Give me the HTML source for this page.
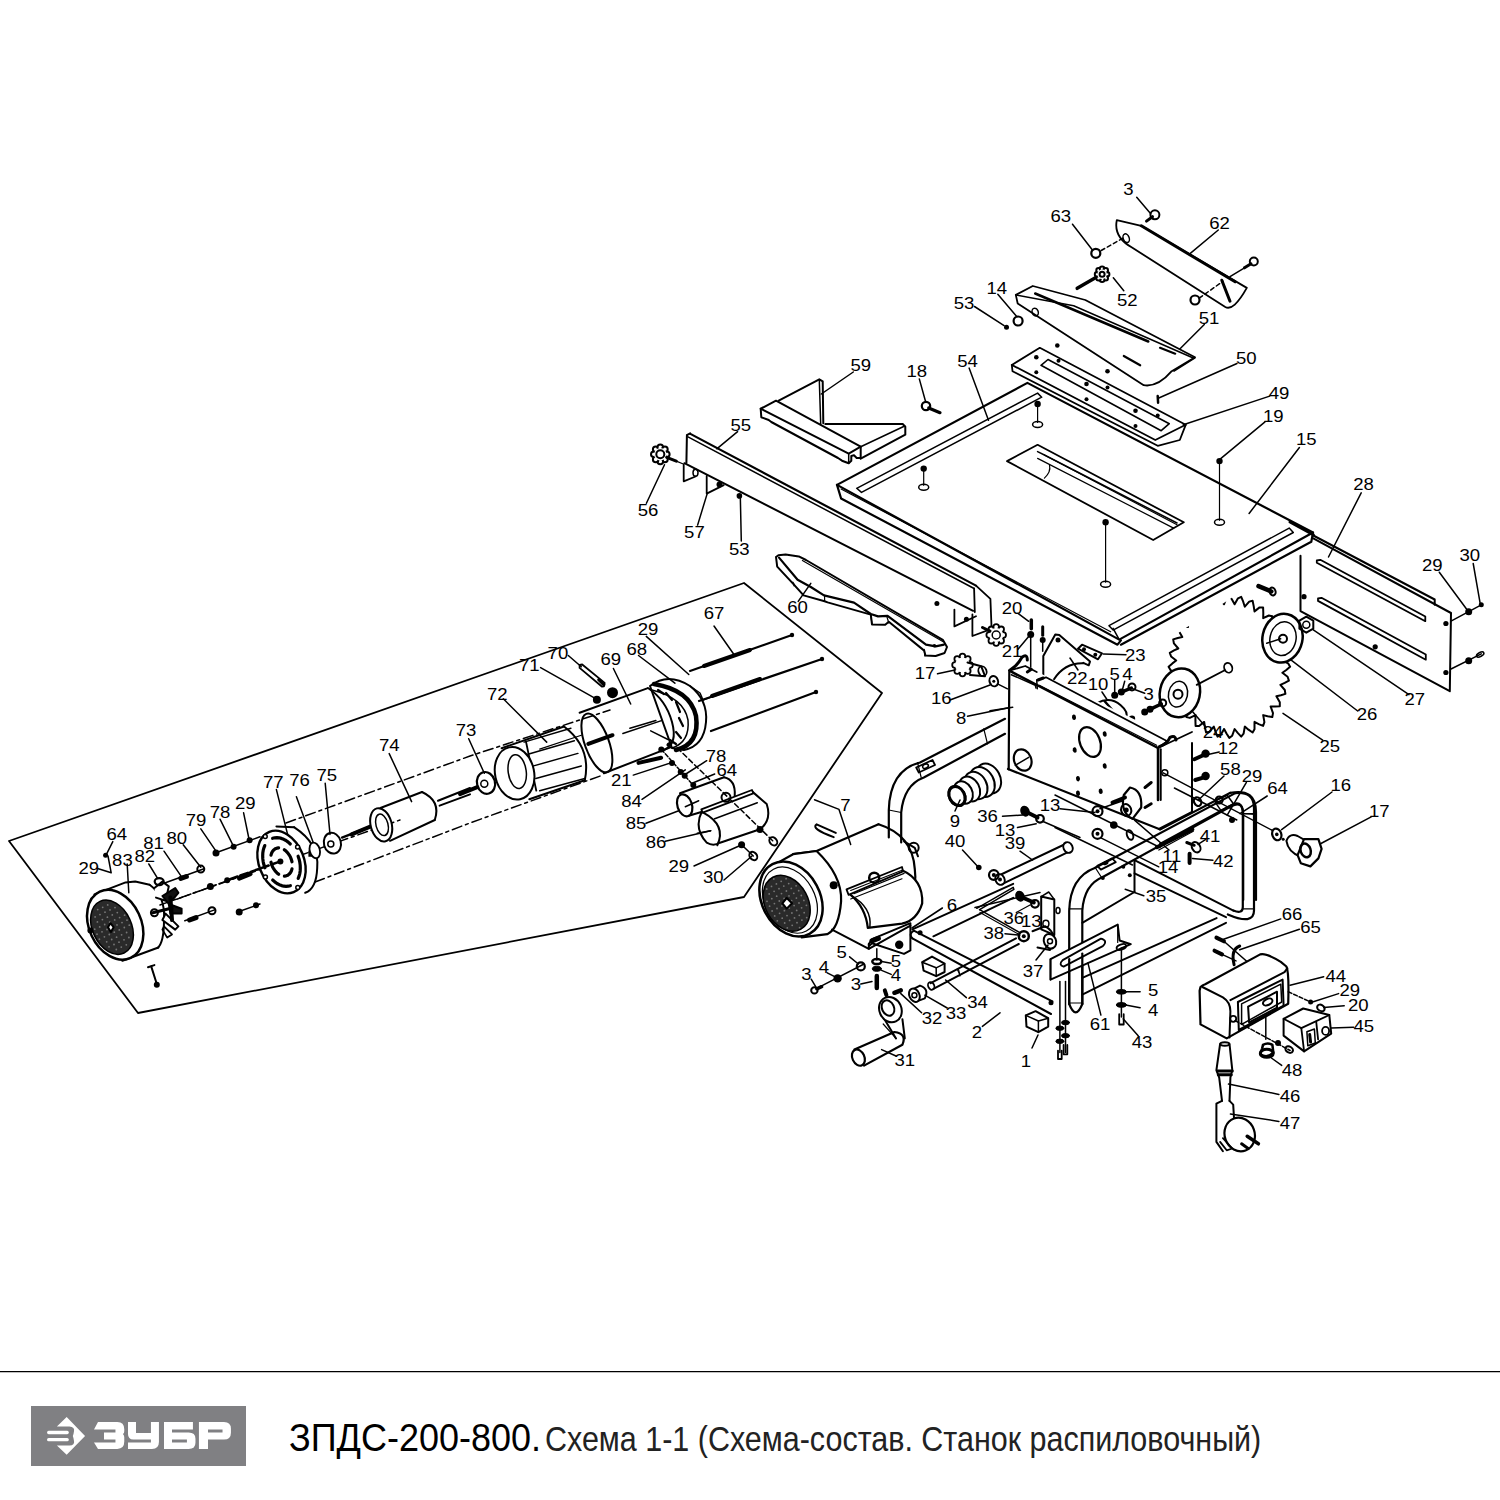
<!DOCTYPE html>
<html><head><meta charset="utf-8"><style>
html,body{margin:0;padding:0;background:#fff;width:1500px;height:1500px;overflow:hidden}
svg{position:absolute;left:0;top:0}
text{font-family:"Liberation Sans",sans-serif;fill:#000;stroke:none;text-anchor:middle;dominant-baseline:central}
.ttl{position:absolute;left:289px;top:1407px;font-family:"Liberation Sans",sans-serif;white-space:nowrap;color:#000}
</style></head><body>
<svg width="1500" height="1500" viewBox="0 0 1500 1500">
<g stroke="#000" stroke-linecap="round" stroke-linejoin="round" fill="none">
<path d="M1116.8,220.2 L1141.3,225.8 L1246.8,287.9 Q1233.5,311.7 1225.3,307.0 L1132.0,247.5 Q1113.3,237.0 1116.8,220.2 Z" stroke-width="1.8" fill="none"/>
<polyline points="1141.3,225.8 1235.1,281.8" stroke-width="3" fill="none"/>
<polyline points="1221.8,280.2 1230,301.2" stroke-width="3" fill="none"/>
<ellipse cx="1126.2" cy="238.2" rx="3" ry="4.5" transform="rotate(-20 1126.2 238.2)" stroke-width="1.5" fill="none"/>
<circle cx="1154.9" cy="214.8" r="4.5" fill="none" stroke-width="2"/>
<polyline points="1152.5,216.7 1146.5,221.1" stroke-width="3" fill="none"/>
<polyline points="1136.7,197.3 1150.7,213.7" stroke-width="1.5" fill="none"/>
<text transform="translate(1128.5 189.2) scale(1.16 1)" font-size="16">3</text>
<circle cx="1095.8" cy="253.3" r="4.5" fill="none" stroke-width="2.2"/>
<polyline points="1072.5,224.2 1092.8,250.5" stroke-width="1.5" fill="none"/>
<polyline points="1101.2,250.5 1125,237" stroke-width="1.5" fill="none" stroke-dasharray="4,3"/>
<text transform="translate(1060.8 216) scale(1.16 1)" font-size="16">63</text>
<polyline points="1218.3,230 1190.3,253.3" stroke-width="1.5" fill="none"/>
<text transform="translate(1219.5 223) scale(1.16 1)" font-size="16">62</text>
<circle cx="1253.8" cy="261.5" r="4" fill="none" stroke-width="2"/>
<polyline points="1251,263.8 1244.5,267.8" stroke-width="3" fill="none"/>
<polyline points="1230,276.7 1244.5,267.8" stroke-width="1.5" fill="none"/>
<circle cx="1195" cy="300" r="4.5" fill="none" stroke-width="2.2"/>
<polyline points="1199.2,298.1 1223,281.3" stroke-width="1.5" fill="none" stroke-dasharray="4,3"/>
<polyline points="1077.2,288.3 1099.3,275.5" stroke-width="3.5" fill="none"/>
<circle cx="1107.1" cy="274.3" r="2.3" fill="#fff" stroke-width="2"/>
<circle cx="1105.7" cy="278.2" r="2.3" fill="#fff" stroke-width="2"/>
<circle cx="1102.1" cy="279.8" r="2.3" fill="#fff" stroke-width="2"/>
<circle cx="1098.6" cy="278.2" r="2.3" fill="#fff" stroke-width="2"/>
<circle cx="1097.1" cy="274.3" r="2.3" fill="#fff" stroke-width="2"/>
<circle cx="1098.6" cy="270.4" r="2.3" fill="#fff" stroke-width="2"/>
<circle cx="1102.1" cy="268.8" r="2.3" fill="#fff" stroke-width="2"/>
<circle cx="1105.7" cy="270.4" r="2.3" fill="#fff" stroke-width="2"/>
<circle cx="1102.1" cy="274.3" r="4.8" fill="#fff" stroke-width="0"/>
<circle cx="1102.1" cy="274.3" r="2.5" fill="none" stroke-width="2"/>
<polyline points="1113.3,277.8 1123.8,290.7" stroke-width="1.5" fill="none"/>
<text transform="translate(1127.3 300) scale(1.16 1)" font-size="16">52</text>
<text transform="translate(996.7 288.3) scale(1.16 1)" font-size="16">14</text>
<polyline points="997.8,294.2 1016.5,316.3" stroke-width="1.5" fill="none"/>
<circle cx="1018.1" cy="321" r="4.5" fill="none" stroke-width="2.2"/>
<text transform="translate(964 303.5) scale(1.16 1)" font-size="16">53</text>
<polyline points="974.5,306.5 1004.1,325.7" stroke-width="1.5" fill="none"/>
<circle cx="1006.5" cy="327.3" r="2.5" fill="#000" stroke-width="0"/>
<path d="M1015.8,294.9 L1032.8,286.0 L1085.3,300.0 L1195.0,357.2 L1171.7,371.2 Q1157.7,387.5 1143.7,385.2 L1017.7,303.5 Z" stroke-width="1.8" fill="none"/>
<polyline points="1015.8,294.9 1073.7,305.8 1193.8,358.3" stroke-width="1.5" fill="none"/>
<polyline points="1035.2,293.5 1148.3,341.5" stroke-width="2.5" fill="none"/>
<polyline points="1174,371.2 1195,357.9" stroke-width="1.5" fill="none"/>
<ellipse cx="1035.2" cy="312.1" rx="3" ry="4" transform="rotate(-20 1035.2 312.1)" stroke-width="1.5" fill="none"/>
<polyline points="1123.8,356 1140.2,365.3" stroke-width="2.2" fill="none"/>
<polyline points="1160,347.8 1175.2,353.7" stroke-width="2.2" fill="none"/>
<text transform="translate(1209 318.7) scale(1.16 1)" font-size="16">51</text>
<polyline points="1204.3,324.5 1179.8,349" stroke-width="1.5" fill="none"/>
<polygon points="1011.8,364.9 1039.8,347.8 1185.7,424.8 1179.8,440 1157.7,445.8 1012.5,371.2" stroke-width="1.8" fill="none"/>
<polyline points="1011.8,364.9 1155.3,440 1185.7,424.8" stroke-width="1.8" fill="none"/>
<polygon points="1041,365.3 1048,359.5 1169.3,423.7 1161.2,430.7" stroke-width="1.6" fill="none"/>
<circle cx="1057.3" cy="345.5" r="2.3" fill="#000" stroke-width="0"/>
<circle cx="1036.3" cy="357.2" r="2.3" fill="#000" stroke-width="0"/>
<circle cx="1107.5" cy="371.2" r="2.3" fill="#000" stroke-width="0"/>
<circle cx="1086.5" cy="384" r="2.3" fill="#000" stroke-width="0"/>
<circle cx="1135.5" cy="410.8" r="2.3" fill="#000" stroke-width="0"/>
<circle cx="1036.3" cy="372.3" r="2" fill="#000" stroke-width="0"/>
<circle cx="1086.5" cy="399.2" r="2" fill="#000" stroke-width="0"/>
<circle cx="1135.5" cy="426" r="2" fill="#000" stroke-width="0"/>
<circle cx="1107.5" cy="387.5" r="2" fill="#000" stroke-width="0"/>
<circle cx="1157.7" cy="415.5" r="2" fill="#000" stroke-width="0"/>
<circle cx="1058.5" cy="360.7" r="2" fill="#000" stroke-width="0"/>
<text transform="translate(1246.3 358.3) scale(1.16 1)" font-size="16">50</text>
<polyline points="1237,363.5 1158.8,398" stroke-width="1.5" fill="none"/>
<polyline points="1157.7,396.1 1158.1,402.7" stroke-width="2.5" fill="none"/>
<text transform="translate(1279 393.3) scale(1.16 1)" font-size="16">49</text>
<polyline points="1269.7,396.1 1183.3,424.8" stroke-width="1.5" fill="none"/>
<text transform="translate(1273.2 416.7) scale(1.16 1)" font-size="16">19</text>
<polyline points="1265,421.8 1220.7,458.7" stroke-width="1.5" fill="none"/>
<text transform="translate(967.5 361.8) scale(1.16 1)" font-size="16">54</text>
<polyline points="969.1,368.1 988.5,420.2" stroke-width="1.5" fill="none"/>
<polygon points="837,484.9 1027.4,382.9 1313,532.5 1119.2,639.6" stroke-width="2.2" fill="none"/>
<polyline points="837,484.9 841.1,498.5 1117.5,644.7 1120.9,640.3" stroke-width="2.2" fill="none"/>
<polyline points="1120.9,644.7 1311.3,541.7 1313,532.5" stroke-width="2.2" fill="none"/>
<polyline points="1113.1,628.4 1119.2,639.6" stroke-width="1.5" fill="none"/>
<polygon points="856.7,488.3 1037.6,393.1 1041.7,397.2 861.5,492.4" stroke-width="1.5" fill="none"/>
<polygon points="1109,625.7 1289.2,528.1 1293.3,532.5 1113.1,630.1" stroke-width="1.5" fill="none"/>
<polyline points="841.1,489 1110.7,631.8" stroke-width="1.2" fill="none"/>
<polygon points="1007,461.1 1037.6,444.8 1183.8,522.3 1153.2,540" stroke-width="1.8" fill="none"/>
<polyline points="1037.6,451.6 1044.4,455 1177,523" stroke-width="1.5" fill="none"/>
<polyline points="1044.4,455 1177,524.7" stroke-width="1.2" fill="none"/>
<polyline points="1037.6,458.4 1173.6,528.1" stroke-width="1.2" fill="none"/>
<path d="M1049.5,465.2 Q1051.2,472.0 1044.4,478.1" stroke-width="1.2" fill="none"/>
<circle cx="1037.6" cy="404" r="3.2" fill="#000" stroke-width="0"/>
<polyline points="1037.6,406.7 1037.6,422.4" stroke-width="1.2" fill="none"/>
<ellipse cx="1037.6" cy="424.4" rx="5" ry="3" transform="rotate(0 1037.6 424.4)" stroke-width="1.5" fill="none"/>
<circle cx="923.7" cy="468.6" r="3.2" fill="#000" stroke-width="0"/>
<polyline points="923.7,471.3 923.7,485.3" stroke-width="1.2" fill="none"/>
<ellipse cx="923.7" cy="487.3" rx="5" ry="3" transform="rotate(0 923.7 487.3)" stroke-width="1.5" fill="none"/>
<circle cx="1105.6" cy="522.3" r="3.2" fill="#000" stroke-width="0"/>
<polyline points="1105.6,525 1105.6,582.2" stroke-width="1.2" fill="none"/>
<ellipse cx="1105.6" cy="584.2" rx="5" ry="3" transform="rotate(0 1105.6 584.2)" stroke-width="1.5" fill="none"/>
<circle cx="1219.5" cy="461.1" r="3.2" fill="#000" stroke-width="0"/>
<polyline points="1219.5,463.8 1219.5,520.3" stroke-width="1.2" fill="none"/>
<ellipse cx="1219.5" cy="522.3" rx="5" ry="3" transform="rotate(0 1219.5 522.3)" stroke-width="1.5" fill="none"/>
<text transform="translate(1306.2 439.7) scale(1.16 1)" font-size="16">15</text>
<polyline points="1299.4,447.5 1249.1,513.5" stroke-width="1.5" fill="none"/>
<polyline points="778.7,400.7 819.3,379.3 822.7,381.3 823.3,423.3" stroke-width="2" fill="none"/>
<polyline points="819.3,379.7 820.7,424" stroke-width="1.5" fill="none"/>
<polyline points="760.7,408.7 776,400.7 860.7,446.7 848.7,453.6 760.7,408.7" stroke-width="2" fill="none"/>
<polyline points="760.7,408.7 761.3,417.3 768.7,420 771.3,422 838,458 842,460.7 848.7,463.3 851.3,460.7 851.3,456 854,455.3 856.7,458 860.7,458 860.7,446.7" stroke-width="2" fill="none"/>
<polyline points="848.7,453.6 848.7,463.3" stroke-width="1.5" fill="none"/>
<polyline points="825.3,424 902.7,424 905.3,426.7 905.3,434.7 860.7,458.7" stroke-width="2" fill="none"/>
<polyline points="860.7,446.7 904.7,426" stroke-width="1.5" fill="none"/>
<text transform="translate(860.7 365.3) scale(1.16 1)" font-size="16">59</text>
<polyline points="853.3,372 821.3,394" stroke-width="1.5" fill="none"/>
<text transform="translate(916.7 371.3) scale(1.16 1)" font-size="16">18</text>
<polyline points="919.3,378.9 925.7,402" stroke-width="1.5" fill="none"/>
<circle cx="926" cy="406" r="4.2" fill="none" stroke-width="2.2"/>
<polyline points="928.7,408 940,412.7" stroke-width="3.2" fill="none"/>
<polyline points="686.9,435.1 690.1,433.3" stroke-width="2" fill="none"/>
<polyline points="686.9,435.5 686.4,462.7" stroke-width="2" fill="none"/>
<polyline points="683.7,464.3 683.7,481.3 695.5,476.5" stroke-width="1.8" fill="none"/>
<polyline points="706.7,476 706.7,493.6 723.7,485.1" stroke-width="1.8" fill="none"/>
<circle cx="666.8" cy="454.3" r="2.8" fill="#fff" stroke-width="2"/>
<circle cx="664.9" cy="459.4" r="2.8" fill="#fff" stroke-width="2"/>
<circle cx="660.3" cy="461.5" r="2.8" fill="#fff" stroke-width="2"/>
<circle cx="655.7" cy="459.4" r="2.8" fill="#fff" stroke-width="2"/>
<circle cx="653.8" cy="454.3" r="2.8" fill="#fff" stroke-width="2"/>
<circle cx="655.7" cy="449.3" r="2.8" fill="#fff" stroke-width="2"/>
<circle cx="660.3" cy="447.2" r="2.8" fill="#fff" stroke-width="2"/>
<circle cx="664.9" cy="449.3" r="2.8" fill="#fff" stroke-width="2"/>
<circle cx="660.3" cy="454.3" r="6.2" fill="#fff" stroke-width="0"/>
<circle cx="660.3" cy="454.3" r="4" fill="none" stroke-width="2"/>
<polyline points="666.7,457.3 676.3,461.1" stroke-width="3" fill="none"/>
<polyline points="676.3,461.1 682.7,463.7" stroke-width="1.2" fill="none"/>
<circle cx="739.4" cy="495.9" r="2.8" fill="#000" stroke-width="0"/>
<circle cx="719.5" cy="484.5" r="3" fill="#000" stroke-width="0"/>
<ellipse cx="695.5" cy="472.8" rx="2.5" ry="3.5" transform="rotate(0 695.5 472.8)" stroke-width="1.5" fill="none"/>
<text transform="translate(694.4 532.5) scale(1.16 1)" font-size="16">57</text>
<polyline points="697.6,525.1 707.2,493.6" stroke-width="1.5" fill="none"/>
<text transform="translate(739.2 549.6) scale(1.16 1)" font-size="16">53</text>
<polyline points="741.3,541.1 740.3,495.9" stroke-width="1.5" fill="none"/>
<text transform="translate(648 510.1) scale(1.16 1)" font-size="16">56</text>
<polyline points="646.4,503.2 664.5,464.8" stroke-width="1.5" fill="none"/>
<text transform="translate(740.8 425.3) scale(1.16 1)" font-size="16">55</text>
<polyline points="737.6,431.7 716.8,448.8" stroke-width="1.5" fill="none"/>
<polyline points="690.4,433.9 976,585.6" stroke-width="2.2" fill="none"/>
<polyline points="688,436.8 974.1,588.5" stroke-width="1.5" fill="none"/>
<polyline points="684.4,463.2 973.1,610.8" stroke-width="2" fill="none"/>
<polyline points="974.1,588.5 974.8,612" stroke-width="1.8" fill="none"/>
<polyline points="954.4,609.6 954.4,626.4 976,616.3" stroke-width="1.8" fill="none"/>
<polyline points="976,585.6 990.4,598.8 991.6,628.8 972.4,636 972.4,614.4" stroke-width="1.8" fill="none"/>
<circle cx="936.9" cy="603.6" r="2.5" fill="#000" stroke-width="0"/>
<circle cx="966.4" cy="619.2" r="2.5" fill="#000" stroke-width="0"/>
<polyline points="776,557 778.4,555.2 785.6,554.4 798.8,556.4 806,560 942.8,639.8 947,647 944.6,653 935.6,656 925.4,655.4 924.2,650.6 888.8,621.8 885.2,624.8 872,624.4 870.8,614.6 827.6,602.4 824.6,601.2 803.6,595.4 792.8,583.4 777.2,566.6 776,557" stroke-width="2" fill="none"/>
<polyline points="779,557.6 797.6,579.8 810.8,587 824,595.4 854,602.6 870.8,614 878,616.4 887.6,615.8 926,644.6 935.6,646.4 944,644.6" stroke-width="2.2" fill="none"/>
<polyline points="802.4,560.6 942.8,641.6" stroke-width="1.2" fill="none"/>
<polyline points="792.8,582.2 794,584 794,585.8" stroke-width="1.2" fill="none"/>
<polyline points="824.6,595.4 824.6,601.4" stroke-width="1.2" fill="none"/>
<polyline points="870.8,614.6 872,624.2" stroke-width="1.2" fill="none"/>
<polyline points="887,617 888.8,623" stroke-width="1.2" fill="none"/>
<polyline points="924.2,649.4 924.8,656" stroke-width="1.2" fill="none"/>
<circle cx="934.4" cy="645.8" r="1.8" fill="#000" stroke-width="0"/>
<text transform="translate(797.6 607.4) scale(1.16 1)" font-size="16">60</text>
<polyline points="798.2,601.4 810.8,583.4" stroke-width="1.5" fill="none"/>
<polyline points="1313.3,535.5 1434.7,599.5 1434.7,604.8" stroke-width="2" fill="none"/>
<polyline points="1300.5,555.8 1300.5,611.1 1449.8,691.2 1451,613 1313.3,538.3" stroke-width="2" fill="none"/>
<polyline points="1290,522 1313.3,534.8" stroke-width="3" fill="none"/>
<polygon points="1316.8,560.5 1320.3,559.8 1425.3,616.5 1425.3,621.2 1316.8,562.8" stroke-width="1.8" fill="none"/>
<polygon points="1318,598.5 1321.5,597.8 1425.8,654.5 1425.8,659.7 1318,600.9" stroke-width="1.8" fill="none"/>
<circle cx="1304" cy="596.7" r="2.6" fill="#000" stroke-width="0"/>
<circle cx="1375.2" cy="646.8" r="2.6" fill="#000" stroke-width="0"/>
<circle cx="1445.9" cy="623.5" r="2.6" fill="#000" stroke-width="0"/>
<circle cx="1445.9" cy="672.5" r="2.6" fill="#000" stroke-width="0"/>
<polyline points="1451,621.2 1481.3,604.8" stroke-width="1.5" fill="none"/>
<circle cx="1468.7" cy="611.8" r="3.5" fill="#000" stroke-width="0"/>
<circle cx="1481.3" cy="604.8" r="2.5" fill="#000" stroke-width="0"/>
<polyline points="1451,669 1481.3,653.8" stroke-width="1.5" fill="none"/>
<circle cx="1468.7" cy="660.8" r="3.5" fill="#000" stroke-width="0"/>
<ellipse cx="1480.2" cy="654.5" rx="4" ry="2" transform="rotate(-28 1480.2 654.5)" stroke-width="1.5" fill="none"/>
<text transform="translate(1363.5 484.7) scale(1.16 1)" font-size="16">28</text>
<polyline points="1361.2,492.8 1328.5,557" stroke-width="1.5" fill="none"/>
<text transform="translate(1432.3 565.2) scale(1.16 1)" font-size="16">29</text>
<polyline points="1439.3,572.2 1467.8,610.7" stroke-width="1.5" fill="none"/>
<text transform="translate(1469.7 555.8) scale(1.16 1)" font-size="16">30</text>
<polyline points="1473.2,563.5 1480.2,603.7" stroke-width="1.5" fill="none"/>
<polyline points="1258.5,586.2 1271.3,591.5" stroke-width="4.5" fill="none"/>
<ellipse cx="1272.5" cy="591.5" rx="3" ry="4" transform="rotate(-20 1272.5 591.5)" stroke-width="2" fill="none"/>
<clipPath id="bladeclip"><polygon points="1160.0,645.0 1312.0,545.0 1320.0,760.0 1150.0,760.0"/></clipPath>
<g clip-path="url(#bladeclip)">
<polyline points="1290.1,666.7 1286.3,670 1282.4,672.8 1287.6,676.8 1288.9,680.6 1284.7,682.9 1280.4,684.9 1284.8,690 1285.4,693.9 1280.9,695.3 1276.4,696.2 1279.8,702.2 1279.8,706.3 1275.1,706.6 1270.6,706.4 1273,713.1 1272.3,717.1 1267.6,716.3 1263.2,715.1 1264.4,722.2 1263.1,725.9 1258.7,724.1 1254.5,721.9 1254.5,729.2 1252.6,732.5 1248.5,729.7 1244.8,726.6 1243.6,733.7 1241.2,736.6 1237.7,732.9 1234.6,729 1232.2,735.7 1229.3,737.9 1226.5,733.5 1224.1,729 1220.7,735 1217.5,736.6 1215.5,731.6 1213.8,726.6 1209.5,731.7 1206.1,732.5 1204.9,727.2 1204.2,721.9 1199.1,726 1195.6,725.9 1195.4,720.4 1195.5,715.1 1189.8,717.9 1186.4,717.1 1187.1,711.6 1188.1,706.4 1182,707.8 1178.8,706.3 1180.4,701.1 1182.3,696.2 1176.1,696.2 1173.2,693.9 1175.6,689.2 1178.3,684.9 1172.2,683.5 1169.8,680.6 1172.9,676.5 1176.2,672.8 1170.5,670.1 1168.6,666.7 1172.4,663.4 1176.2,660.5 1171.1,656.5 1169.8,652.8 1174,650.4 1178.3,648.5 1173.9,643.4 1173.2,639.4 1177.8,638 1182.3,637.1 1178.8,631.1 1178.8,627.1 1183.5,626.8 1188.1,626.9 1185.7,620.2 1186.4,616.3 1191,617.1 1195.5,618.2 1194.3,611.1 1195.6,607.4 1200,609.2 1204.2,611.4 1204.2,604.2 1206.1,600.8 1210.1,603.6 1213.8,606.7 1215,599.6 1217.5,596.8 1221,600.4 1224.1,604.3 1226.4,597.6 1229.3,595.4 1232.1,599.8 1234.6,604.3 1238,598.3 1241.2,596.8 1243.2,601.7 1244.8,606.7 1249.2,601.6 1252.6,600.8 1253.7,606.1 1254.5,611.4 1259.6,607.4 1263.1,607.4 1263.3,612.9 1263.2,618.2 1268.9,615.5 1272.3,616.3 1271.6,621.7 1270.6,626.9 1276.6,625.5 1279.8,627.1 1278.3,632.2 1276.4,637.1 1282.6,637.1 1285.4,639.4 1283,644.1 1280.4,648.5 1286.4,649.9 1288.9,652.8 1285.8,656.8 1282.4,660.5 1288.1,663.3 1290.1,666.7" stroke-width="2" fill="none"/>
</g>
<ellipse cx="1282.5" cy="638.2" rx="20" ry="24.5" transform="rotate(12 1282.5 638.2)" stroke-width="2.5" fill="#fff"/>
<ellipse cx="1283" cy="638.7" rx="13" ry="17" transform="rotate(12 1283 638.7)" stroke-width="1.5" fill="none"/>
<circle cx="1283" cy="638.7" r="4" fill="none" stroke-width="2"/>
<polyline points="1266.7,643.3 1280.7,638.7" stroke-width="1.5" fill="none"/>
<polyline points="1313.3,628.7 1306.3,632.7 1299.4,628.7 1299.4,620.7 1306.3,616.7 1313.3,620.7 1313.3,628.7" stroke-width="2" fill="none"/>
<circle cx="1306.3" cy="624.7" r="3.5" fill="none" stroke-width="1.5"/>
<ellipse cx="1179.9" cy="692.8" rx="20" ry="24.5" transform="rotate(12 1179.9 692.8)" stroke-width="2.5" fill="#fff"/>
<ellipse cx="1178" cy="694.2" rx="9.5" ry="13" transform="rotate(12 1178 694.2)" stroke-width="1.5" fill="none"/>
<circle cx="1178" cy="694.2" r="4.5" fill="none" stroke-width="2"/>
<polyline points="1196.7,684.9 1224.7,670.2" stroke-width="1.8" fill="none"/>
<ellipse cx="1228.2" cy="667.8" rx="4" ry="5" transform="rotate(-20 1228.2 667.8)" stroke-width="1.8" fill="none"/>
<text transform="translate(1213 732) scale(1.16 1)" font-size="16">24</text>
<polyline points="1192,711 1206,727.3" stroke-width="1.5" fill="none"/>
<text transform="translate(1329.7 746) scale(1.16 1)" font-size="16">25</text>
<polyline points="1283,713.3 1322.7,740.2" stroke-width="1.5" fill="none"/>
<text transform="translate(1367 714.5) scale(1.16 1)" font-size="16">26</text>
<polyline points="1291.2,660.1 1357.7,711" stroke-width="1.5" fill="none"/>
<text transform="translate(1414.8 699.3) scale(1.16 1)" font-size="16">27</text>
<polyline points="1313.3,629.8 1409,694.7" stroke-width="1.5" fill="none"/>
<polyline points="1043.3,680 1043.3,656 1055.3,634.4 1059.3,634.9 1090,661.6 1088.7,665.3 1083.3,662.9" stroke-width="2" fill="#fff"/>
<path d="M1054.0,679.3 Q1064.7,662.7 1083.3,663.3" stroke-width="2" fill="none"/>
<circle cx="1058" cy="640" r="2.5" fill="#000" stroke-width="0"/>
<polyline points="1070,658 1078,670" stroke-width="1.5" fill="none"/>
<text transform="translate(1077.3 678.7) scale(1.16 1)" font-size="16">22</text>
<polygon points="1078,648.7 1082,644.7 1102,653.3 1098,659.3" stroke-width="2" fill="none"/>
<circle cx="1084" cy="649.3" r="2" fill="#000" stroke-width="0"/>
<circle cx="1095.3" cy="654.7" r="2" fill="#000" stroke-width="0"/>
<polyline points="1103.3,654 1126,654.7" stroke-width="1.5" fill="none"/>
<text transform="translate(1135.3 655.3) scale(1.16 1)" font-size="16">23</text>
<path d="M1096.7,703.3 Q1110.0,696.0 1120.7,705.3 Q1128.7,712.0 1126.0,718.0" stroke-width="2" fill="none"/>
<polyline points="1104.7,701.3 1114,712 1115.3,717.3" stroke-width="2.5" fill="none"/>
<circle cx="1114.7" cy="695.3" r="3.5" fill="#000" stroke-width="0"/>
<circle cx="1121.3" cy="692" r="3.5" fill="#000" stroke-width="0"/>
<circle cx="1132" cy="686.9" r="3.5" fill="none" stroke-width="2"/>
<polyline points="1123.3,691.3 1131.3,688" stroke-width="3.5" fill="none"/>
<polyline points="1132.7,688.7 1144.7,693.3" stroke-width="1.5" fill="none"/>
<text transform="translate(1098 684) scale(1.16 1)" font-size="16">10</text>
<polyline points="1102,692 1107.3,700" stroke-width="1.5" fill="none"/>
<text transform="translate(1114.7 674.7) scale(1.16 1)" font-size="16">5</text>
<polyline points="1114.7,680 1114.7,693.3" stroke-width="1.5" fill="none"/>
<text transform="translate(1127.3 674) scale(1.16 1)" font-size="16">4</text>
<polyline points="1124.7,681.3 1122,691.3" stroke-width="1.5" fill="none"/>
<text transform="translate(1148.7 694.7) scale(1.16 1)" font-size="16">3</text>
<circle cx="1132" cy="718.7" r="3.2" fill="#000" stroke-width="0"/>
<circle cx="1144.7" cy="712" r="3.5" fill="#000" stroke-width="0"/>
<circle cx="1150" cy="709.3" r="3.5" fill="#000" stroke-width="0"/>
<circle cx="1162.7" cy="702.9" r="3.5" fill="none" stroke-width="2"/>
<polyline points="1152,708.3 1161.3,704" stroke-width="3.5" fill="none"/>
<polygon points="1009.3,670.7 1025.3,666 1174,738.7 1158,748 1160.7,800 1008.7,800" stroke-width="0" fill="#fff"/>
<polyline points="1009.3,672 1008.7,769.3" stroke-width="2.2" fill="none"/>
<polyline points="1009.3,670.7 1158,748" stroke-width="2.5" fill="none"/>
<polyline points="1009.3,670.7 1025.3,666 1036.7,672" stroke-width="1.8" fill="none"/>
<polyline points="1011.3,674.7 1035.3,685.3 1036,688" stroke-width="1.5" fill="none"/>
<polyline points="1036.7,680 1037.3,688.7" stroke-width="1.5" fill="none"/>
<polyline points="1037.3,680 1046,677.3 1167.3,741.3 1158,748" stroke-width="1.8" fill="none"/>
<polyline points="1039.3,685.3 1156.7,745.3" stroke-width="1.2" fill="none"/>
<polyline points="1158,748 1158,800" stroke-width="2.5" fill="none"/>
<polyline points="1160.7,749.3 1160.7,800" stroke-width="2" fill="none"/>
<path d="M1010.0,670.0 Q1016.7,666.7 1022.0,657.3 Q1027.3,653.3 1027.3,660.0" stroke-width="3" fill="none"/>
<path d="M1159.3,746.7 Q1167.3,744.0 1170.0,737.3 Q1175.3,734.7 1176.0,740.0" stroke-width="3" fill="none"/>
<polyline points="1027.3,672 1031.3,669.3" stroke-width="3" fill="none"/>
<polyline points="1038,680 1043.3,678" stroke-width="3" fill="none"/>
<ellipse cx="1090" cy="742" rx="10" ry="15.5" transform="rotate(-22 1090 742)" stroke-width="2.2" fill="none"/>
<ellipse cx="1022.7" cy="760" rx="8.5" ry="11" transform="rotate(-22 1022.7 760)" stroke-width="2.2" fill="none"/>
<polyline points="1015.3,765.3 1028.7,757.3" stroke-width="1.5" fill="none"/>
<ellipse cx="1074" cy="717.3" rx="2" ry="2.8" transform="rotate(-10 1074 717.3)" stroke-width="0" fill="#000"/>
<ellipse cx="1104.7" cy="734" rx="2" ry="2.8" transform="rotate(-10 1104.7 734)" stroke-width="0" fill="#000"/>
<ellipse cx="1074.7" cy="750" rx="2" ry="2.8" transform="rotate(-10 1074.7 750)" stroke-width="0" fill="#000"/>
<ellipse cx="1104.7" cy="766" rx="2" ry="2.8" transform="rotate(-10 1104.7 766)" stroke-width="0" fill="#000"/>
<ellipse cx="1078" cy="778.7" rx="2" ry="2.8" transform="rotate(-10 1078 778.7)" stroke-width="0" fill="#000"/>
<ellipse cx="1100.7" cy="791.3" rx="2" ry="2.8" transform="rotate(-10 1100.7 791.3)" stroke-width="0" fill="#000"/>
<ellipse cx="1078" cy="793.3" rx="2" ry="2.8" transform="rotate(-10 1078 793.3)" stroke-width="0" fill="#000"/>
<polyline points="1031.3,620 1031.3,628.7" stroke-width="3.5" fill="none"/>
<polyline points="1042.7,626.7 1042.7,635.3" stroke-width="3" fill="none"/>
<circle cx="1030.7" cy="634.4" r="3.5" fill="#000" stroke-width="0"/>
<circle cx="1042.7" cy="640" r="3" fill="#000" stroke-width="0"/>
<polyline points="1030.7,635.3 1030.7,667.3" stroke-width="1.5" fill="none"/>
<polyline points="1042.7,641.3 1042.7,651.3" stroke-width="1.5" fill="none"/>
<text transform="translate(1012 608) scale(1.16 1)" font-size="16">20</text>
<polyline points="1018,613.3 1028.7,621.3" stroke-width="1.5" fill="none"/>
<text transform="translate(1012 651.3) scale(1.16 1)" font-size="16">21</text>
<polyline points="1018,649.3 1029.3,635.7" stroke-width="1.5" fill="none"/>
<polyline points="990,710.7 1012.7,707.3" stroke-width="1.5" fill="none"/>
<polygon points="9,841 744,583 882,693 744,897 138,1013" stroke-width="1.8" fill="none"/>
<polyline points="286,823 470,756 610,710" stroke-width="1.5" fill="none" stroke-dasharray="10,4,3,4"/>
<polyline points="315,882 470,823 603,775" stroke-width="1.5" fill="none" stroke-dasharray="10,4,3,4"/>
<polyline points="160,905 400,820" stroke-width="1.5" fill="none" stroke-dasharray="10,4,3,4"/>
<polyline points="94.4,894.4 125.6,882.4 135.2,881.6 149.6,884.8" stroke-width="2" fill="none"/>
<path d="M149.6,884.8 Q165.6,896.0 164.0,920.0 Q164.0,942.4 157.6,948.0" stroke-width="2" fill="none"/>
<polyline points="122.4,960.8 158.4,947.5" stroke-width="2" fill="none"/>
<ellipse cx="115.2" cy="924.8" rx="26" ry="36.5" transform="rotate(-25 115.2 924.8)" stroke-width="2.5" fill="#fff"/>
<ellipse cx="112" cy="927.2" rx="19.5" ry="28.5" transform="rotate(-25 112 927.2)" stroke-width="1.5" fill="#2a2a2a"/>
<circle cx="94.7" cy="929.2" r="0.9" fill="#777" stroke-width="0"/>
<circle cx="97" cy="934.2" r="0.9" fill="#777" stroke-width="0"/>
<circle cx="99.4" cy="939.2" r="0.9" fill="#777" stroke-width="0"/>
<circle cx="95.1" cy="916.9" r="0.9" fill="#777" stroke-width="0"/>
<circle cx="97.4" cy="921.9" r="0.9" fill="#777" stroke-width="0"/>
<circle cx="99.7" cy="926.9" r="0.9" fill="#777" stroke-width="0"/>
<circle cx="102" cy="931.8" r="0.9" fill="#777" stroke-width="0"/>
<circle cx="104.4" cy="936.8" r="0.9" fill="#777" stroke-width="0"/>
<circle cx="106.7" cy="941.8" r="0.9" fill="#777" stroke-width="0"/>
<circle cx="109" cy="946.8" r="0.9" fill="#777" stroke-width="0"/>
<circle cx="97.7" cy="909.6" r="0.9" fill="#777" stroke-width="0"/>
<circle cx="100" cy="914.6" r="0.9" fill="#777" stroke-width="0"/>
<circle cx="102.4" cy="919.6" r="0.9" fill="#777" stroke-width="0"/>
<circle cx="104.7" cy="924.5" r="0.9" fill="#777" stroke-width="0"/>
<circle cx="107" cy="929.5" r="0.9" fill="#777" stroke-width="0"/>
<circle cx="109.3" cy="934.5" r="0.9" fill="#777" stroke-width="0"/>
<circle cx="111.7" cy="939.5" r="0.9" fill="#777" stroke-width="0"/>
<circle cx="114" cy="944.5" r="0.9" fill="#777" stroke-width="0"/>
<circle cx="116.3" cy="949.5" r="0.9" fill="#777" stroke-width="0"/>
<circle cx="102.7" cy="907.3" r="0.9" fill="#777" stroke-width="0"/>
<circle cx="105" cy="912.2" r="0.9" fill="#777" stroke-width="0"/>
<circle cx="107.4" cy="917.2" r="0.9" fill="#777" stroke-width="0"/>
<circle cx="109.7" cy="922.2" r="0.9" fill="#777" stroke-width="0"/>
<circle cx="112" cy="927.2" r="0.9" fill="#777" stroke-width="0"/>
<circle cx="114.3" cy="932.2" r="0.9" fill="#777" stroke-width="0"/>
<circle cx="116.6" cy="937.2" r="0.9" fill="#777" stroke-width="0"/>
<circle cx="119" cy="942.2" r="0.9" fill="#777" stroke-width="0"/>
<circle cx="121.3" cy="947.1" r="0.9" fill="#777" stroke-width="0"/>
<circle cx="107.7" cy="904.9" r="0.9" fill="#777" stroke-width="0"/>
<circle cx="110" cy="909.9" r="0.9" fill="#777" stroke-width="0"/>
<circle cx="112.3" cy="914.9" r="0.9" fill="#777" stroke-width="0"/>
<circle cx="114.7" cy="919.9" r="0.9" fill="#777" stroke-width="0"/>
<circle cx="117" cy="924.9" r="0.9" fill="#777" stroke-width="0"/>
<circle cx="119.3" cy="929.9" r="0.9" fill="#777" stroke-width="0"/>
<circle cx="121.6" cy="934.8" r="0.9" fill="#777" stroke-width="0"/>
<circle cx="124" cy="939.8" r="0.9" fill="#777" stroke-width="0"/>
<circle cx="126.3" cy="944.8" r="0.9" fill="#777" stroke-width="0"/>
<circle cx="115" cy="907.6" r="0.9" fill="#777" stroke-width="0"/>
<circle cx="117.3" cy="912.6" r="0.9" fill="#777" stroke-width="0"/>
<circle cx="119.6" cy="917.6" r="0.9" fill="#777" stroke-width="0"/>
<circle cx="122" cy="922.6" r="0.9" fill="#777" stroke-width="0"/>
<circle cx="124.3" cy="927.5" r="0.9" fill="#777" stroke-width="0"/>
<circle cx="126.6" cy="932.5" r="0.9" fill="#777" stroke-width="0"/>
<circle cx="128.9" cy="937.5" r="0.9" fill="#777" stroke-width="0"/>
<circle cx="124.6" cy="915.2" r="0.9" fill="#777" stroke-width="0"/>
<circle cx="127" cy="920.2" r="0.9" fill="#777" stroke-width="0"/>
<circle cx="129.3" cy="925.2" r="0.9" fill="#777" stroke-width="0"/>
<polygon points="108,927.2 110.4,923.2 113.6,927.2 110.9,932" stroke-width="2" fill="#fff"/>
<circle cx="90.4" cy="930.4" r="3" fill="#000" stroke-width="0"/>
<polyline points="154.4,888 162.4,881.6 168.8,886.4 165.6,900.8 156,897.6" stroke-width="2" fill="#fff"/>
<ellipse cx="159.2" cy="881.6" rx="4.5" ry="3.5" transform="rotate(0 159.2 881.6)" stroke-width="2.2" fill="none"/>
<path d="M162.4,896.0 L175.2,888.0 L178.4,892.8 L168.8,904.0 Z" stroke-width="2" fill="#111"/>
<path d="M168.8,904.0 L181.6,908.8 L181.6,913.6 L170.4,913.6 Z" stroke-width="2" fill="#111"/>
<path d="M165.6,913.6 L178.4,926.4 L175.2,929.6 L162.4,920.0 Z" stroke-width="2" fill="#fff"/>
<polyline points="170.4,897.6 172,920" stroke-width="4" fill="none"/>
<polyline points="152.8,912.8 172,908" stroke-width="3" fill="none"/>
<circle cx="154.4" cy="912.8" r="3.5" fill="none" stroke-width="2"/>
<polygon points="164,926.4 172,934.4 167.2,937.6 162.4,929.6" stroke-width="1.8" fill="none"/>
<polyline points="216,852.8 260,836.8" stroke-width="1.5" fill="none"/>
<circle cx="216" cy="853.1" r="3.5" fill="#000" stroke-width="0"/>
<circle cx="233.6" cy="846.7" r="3" fill="#000" stroke-width="0"/>
<circle cx="249.6" cy="840.3" r="3" fill="#000" stroke-width="0"/>
<polyline points="164,883.2 204,868.8" stroke-width="1.5" fill="none"/>
<circle cx="200.8" cy="869.1" r="3.5" fill="none" stroke-width="2"/>
<polyline points="180.8,878.4 186.4,876.5" stroke-width="5" fill="none"/>
<polyline points="176.8,899.2 260,868.8" stroke-width="1.5" fill="none" stroke-dasharray="6,3"/>
<circle cx="210.4" cy="886.4" r="3.5" fill="#000" stroke-width="0"/>
<circle cx="227.2" cy="880.3" r="3" fill="#000" stroke-width="0"/>
<polyline points="239.2,878.4 250.4,873.9" stroke-width="4.5" fill="none"/>
<polyline points="184.8,920.8 215.2,909.6" stroke-width="1.5" fill="none"/>
<circle cx="212" cy="910.7" r="3.5" fill="none" stroke-width="2"/>
<polyline points="189.6,920 196,917.6" stroke-width="5" fill="none"/>
<polyline points="237.6,912 260,904" stroke-width="1.5" fill="none"/>
<circle cx="239.2" cy="912" r="3.5" fill="#000" stroke-width="0"/>
<circle cx="256" cy="905.3" r="3" fill="#000" stroke-width="0"/>
<polyline points="151.2,966.4 156.8,984" stroke-width="2" fill="none"/>
<polyline points="148,967.2 154.4,965.1" stroke-width="2" fill="none"/>
<circle cx="156.8" cy="984.8" r="3" fill="#000" stroke-width="0"/>
<text transform="translate(116.8 834.4) scale(1.16 1)" font-size="16">64</text>
<polyline points="112.8,841.6 106.4,854.4" stroke-width="1.5" fill="none"/>
<circle cx="105.6" cy="855.2" r="2.5" fill="#000" stroke-width="0"/>
<text transform="translate(88.8 868.8) scale(1.16 1)" font-size="16">29</text>
<polyline points="98.4,868.8 111.2,872.8 108,856" stroke-width="1.5" fill="none"/>
<text transform="translate(122.4 860.8) scale(1.16 1)" font-size="16">83</text>
<polyline points="127.2,864 128.8,892.8" stroke-width="1.5" fill="none"/>
<text transform="translate(144.8 856) scale(1.16 1)" font-size="16">82</text>
<polyline points="148.8,864 157.6,878.4" stroke-width="1.5" fill="none"/>
<text transform="translate(153.6 843.2) scale(1.16 1)" font-size="16">81</text>
<polyline points="164,851.2 181.6,876.8" stroke-width="1.5" fill="none"/>
<text transform="translate(176.8 838.4) scale(1.16 1)" font-size="16">80</text>
<polyline points="183.2,844.8 200.8,867.2" stroke-width="1.5" fill="none"/>
<text transform="translate(196 820) scale(1.16 1)" font-size="16">79</text>
<polyline points="200.8,828.8 216,851.2" stroke-width="1.5" fill="none"/>
<text transform="translate(220 812.8) scale(1.16 1)" font-size="16">78</text>
<polyline points="220,819.2 232.8,844.8" stroke-width="1.5" fill="none"/>
<text transform="translate(245.2 803.2) scale(1.16 1)" font-size="16">29</text>
<polyline points="243.6,812.8 249.2,840" stroke-width="1.5" fill="none"/>
<polyline points="276.4,826.4 294,827.2" stroke-width="2" fill="none"/>
<path d="M294.0,827.2 Q319.6,844.0 317.2,868.0 Q316.4,888.8 305.2,892.8" stroke-width="2" fill="none"/>
<ellipse cx="281.5" cy="862" rx="22.5" ry="32.5" transform="rotate(-22 281.5 862)" stroke-width="2.4" fill="#fff"/>
<polyline points="298.1,856.2 299.1,859.2 299.8,862.2 300.2,865.1 300.3,868.1 300.2,870.9 299.8,873.6 299.1,876.1 298.2,878.4" stroke-width="3.2" fill="none"/>
<polyline points="290.4,885.7 288.3,886.2 286.1,886.4 283.9,886.2 281.6,885.6 279.3,884.7 277,883.5 274.8,881.9 272.7,880" stroke-width="3.2" fill="none"/>
<polyline points="264.9,867.8 263.9,864.8 263.2,861.8 262.8,858.9 262.7,855.9 262.8,853.1 263.2,850.4 263.9,847.9 264.8,845.6" stroke-width="3.2" fill="none"/>
<polyline points="272.6,838.3 274.7,837.8 276.9,837.6 279.1,837.8 281.4,838.4 283.7,839.3 286,840.5 288.2,842.1 290.3,844" stroke-width="3.2" fill="none"/>
<polyline points="292,868.9 291.4,870.9 290.4,872.7 289.2,874.1 287.8,875.2 286.1,875.8 284.4,876.1" stroke-width="3.2" fill="none"/>
<polyline points="278.7,874.3 277,872.9 275.3,871.2 273.9,869.2 272.6,867 271.7,864.6 271,862.2" stroke-width="3.2" fill="none"/>
<polyline points="271,855.1 271.6,853.1 272.6,851.3 273.8,849.9 275.2,848.8 276.9,848.2 278.6,847.9" stroke-width="3.2" fill="none"/>
<polyline points="284.3,849.7 286,851.1 287.7,852.8 289.1,854.8 290.4,857 291.3,859.4 292,861.8" stroke-width="3.2" fill="none"/>
<circle cx="297.8" cy="887.6" r="2" fill="#fff" stroke-width="1.5"/>
<circle cx="265.4" cy="877.1" r="2" fill="#fff" stroke-width="1.5"/>
<circle cx="265.2" cy="836.4" r="2" fill="#fff" stroke-width="1.5"/>
<circle cx="297.6" cy="846.9" r="2" fill="#fff" stroke-width="1.5"/>
<circle cx="280.4" cy="861.6" r="3" fill="#000" stroke-width="0"/>
<polyline points="230,879.2 279.6,861.6" stroke-width="2.5" fill="none" stroke-dasharray="8,3"/>
<polygon points="308.4,850.4 319.6,852.8 319.6,856.8 308.4,856.8" stroke-width="0" fill="#000"/>
<ellipse cx="314.8" cy="850.4" rx="5" ry="8" transform="rotate(-15 314.8 850.4)" stroke-width="1.8" fill="#fff"/>
<ellipse cx="332.4" cy="843.2" rx="8.5" ry="10.5" transform="rotate(-15 332.4 843.2)" stroke-width="2" fill="#fff"/>
<circle cx="330.8" cy="844" r="3" fill="none" stroke-width="1.5"/>
<polyline points="342,837.6 370.8,826.4" stroke-width="2.2" fill="none"/>
<polyline points="351.6,834.4 370.8,826.4" stroke-width="4" fill="none"/>
<polyline points="380.4,808 422,792" stroke-width="2" fill="none"/>
<polyline points="390,840.8 434.8,820" stroke-width="2" fill="none"/>
<path d="M422.0,792.0 Q441.2,800.8 434.8,820.0" stroke-width="2" fill="none"/>
<ellipse cx="381.2" cy="824.8" rx="10.5" ry="17" transform="rotate(-15 381.2 824.8)" stroke-width="2" fill="#fff"/>
<ellipse cx="382" cy="824.8" rx="6" ry="11" transform="rotate(-15 382 824.8)" stroke-width="1.5" fill="none"/>
<polyline points="438,800.8 470,788" stroke-width="2" fill="none"/>
<polyline points="439.6,805.6 470,794.4" stroke-width="2" fill="none"/>
<text transform="translate(273.2 782.4) scale(1.16 1)" font-size="16">77</text>
<polyline points="276.4,789.6 287.6,834.4" stroke-width="1.5" fill="none"/>
<text transform="translate(299.6 780.8) scale(1.16 1)" font-size="16">76</text>
<polyline points="296.4,796.8 313.2,842.4" stroke-width="1.5" fill="none"/>
<text transform="translate(326.8 775.2) scale(1.16 1)" font-size="16">75</text>
<polyline points="325.2,783.2 330,834.4" stroke-width="1.5" fill="none"/>
<text transform="translate(389.2 745.6) scale(1.16 1)" font-size="16">74</text>
<polyline points="389.2,753.6 411.6,801.6" stroke-width="1.5" fill="none"/>
<ellipse cx="486" cy="782.9" rx="9" ry="11" transform="rotate(-15 486 782.9)" stroke-width="2.2" fill="#fff"/>
<circle cx="484.3" cy="783.7" r="3.5" fill="none" stroke-width="1.5"/>
<polyline points="460,794.1 477.3,787.2" stroke-width="4" fill="none"/>
<polyline points="494.7,780.3 515.5,771.6" stroke-width="1.5" fill="none" stroke-dasharray="3,2"/>
<text transform="translate(466.1 730) scale(1.16 1)" font-size="16">73</text>
<polyline points="468.7,738.7 484.3,773.3" stroke-width="1.5" fill="none"/>
<polyline points="501.6,748.2 564,726.5" stroke-width="2" fill="none"/>
<polyline points="529.3,799.3 584.8,780.3" stroke-width="2" fill="none"/>
<path d="M564.0,726.5 Q591.7,747.3 584.8,780.3" stroke-width="2" fill="none"/>
<polyline points="524.1,742.1 570.9,728.3" stroke-width="1.5" fill="none"/>
<polyline points="528,754.3 574.4,740.8" stroke-width="1.5" fill="none"/>
<polyline points="531.9,766.4 577.9,753.4" stroke-width="1.5" fill="none"/>
<polyline points="535.8,778.5 581.3,766" stroke-width="1.5" fill="none"/>
<polyline points="539.7,790.7 584.8,778.5" stroke-width="1.5" fill="none"/>
<polyline points="525.9,741.3 536.3,790.7" stroke-width="1.8" fill="none"/>
<ellipse cx="514.6" cy="773.3" rx="19.5" ry="26.5" transform="rotate(-12 514.6 773.3)" stroke-width="2" fill="#fff"/>
<ellipse cx="517.2" cy="771.6" rx="9" ry="17" transform="rotate(-8 517.2 771.6)" stroke-width="1.5" fill="none"/>
<polyline points="539.7,749.1 581.3,735.2" stroke-width="1.2" fill="none"/>
<polyline points="579.6,712.7 647.2,688.4" stroke-width="2" fill="none"/>
<polyline points="603.9,773.3 674.9,745.6" stroke-width="2" fill="none"/>
<ellipse cx="596.9" cy="743" rx="12" ry="31" transform="rotate(-20 596.9 743)" stroke-width="2" fill="none"/>
<polyline points="588.3,743.9 612.5,735.2" stroke-width="4" fill="none"/>
<polyline points="622.9,733.5 664.5,719.6" stroke-width="1.5" fill="none"/>
<polyline points="629.9,728.3 655.9,720.5" stroke-width="1.5" fill="none"/>
<polyline points="650.7,730.9 668,739.5" stroke-width="1.5" fill="none"/>
<ellipse cx="669.7" cy="743.9" rx="3.5" ry="2" transform="rotate(-30 669.7 743.9)" stroke-width="0" fill="#000"/>
<path d="M650,686 Q668,672 690,686 Q708,700 706,722 Q704,746 684,750 L672,748 Z" stroke-width="2" fill="#fff"/>
<polyline points="690,686 700,693 703,700" stroke-width="1.5" fill="none"/>
<path d="M654,684 Q690,690 696,716 Q700,744 676,750" stroke-width="4.5" fill="none"/>
<path d="M652,690 Q684,698 688,720 Q690,742 672,748" stroke-width="1.5" fill="none"/>
<polyline points="658,690 664,694" stroke-width="2.2" fill="none"/>
<polyline points="666,693 672,700" stroke-width="2.2" fill="none"/>
<polyline points="676,702 680,712" stroke-width="2.2" fill="none"/>
<polyline points="679,718 683,726" stroke-width="2.2" fill="none"/>
<polyline points="676,732 681,738" stroke-width="2.2" fill="none"/>
<polyline points="670,740 676,744" stroke-width="2.2" fill="none"/>
<path d="M648,688 Q666,700 672,722 Q678,744 664,750" stroke-width="2" fill="none"/>
<polyline points="703,700 760,679" stroke-width="1.5" fill="none"/>
<polyline points="579.6,665 582.2,664.5 604.7,682.9 603.9,686.3 602.1,686.7 579.6,667.9 579.6,665" stroke-width="1.8" fill="#fff"/>
<polyline points="598.7,679.7 603.9,684.9" stroke-width="3" fill="none"/>
<circle cx="596.9" cy="699.7" r="4" fill="#000" stroke-width="0"/>
<circle cx="612.5" cy="692.7" r="5.5" fill="#000" stroke-width="0"/>
<text transform="translate(557.9 653.7) scale(1.16 1)" font-size="16">70</text>
<polyline points="568.3,655.5 581.3,666.7" stroke-width="1.5" fill="none"/>
<text transform="translate(529.3 665) scale(1.16 1)" font-size="16">71</text>
<polyline points="540.6,667.6 596.1,698.8" stroke-width="1.5" fill="none"/>
<text transform="translate(610.8 659.8) scale(1.16 1)" font-size="16">69</text>
<polyline points="613.4,668.5 630.7,704" stroke-width="1.5" fill="none"/>
<text transform="translate(636.8 649.4) scale(1.16 1)" font-size="16">68</text>
<polyline points="638.5,655.5 674.9,683.2" stroke-width="1.5" fill="none"/>
<text transform="translate(648.1 629.5) scale(1.16 1)" font-size="16">29</text>
<polyline points="646.3,636.4 688.8,674.5" stroke-width="1.5" fill="none"/>
<text transform="translate(497.3 694.5) scale(1.16 1)" font-size="16">72</text>
<polyline points="503.3,698.8 546.7,742.1" stroke-width="1.5" fill="none"/>
<text transform="translate(621.2 780.3) scale(1.16 1)" font-size="16">21</text>
<polyline points="633.3,775.1 673.2,762.1" stroke-width="1.5" fill="none"/>
<text transform="translate(631.6 801.1) scale(1.16 1)" font-size="16">84</text>
<polyline points="642,799.3 685.3,769.9" stroke-width="1.5" fill="none"/>
<polyline points="638.5,762.9 661.1,757.7" stroke-width="4" fill="none"/>
<polyline points="690,671 792,635" stroke-width="2.2" fill="none"/>
<circle cx="792" cy="635" r="2.2" fill="#000" stroke-width="0"/>
<polyline points="699,701 822,659" stroke-width="2.2" fill="none"/>
<circle cx="822" cy="659" r="2.2" fill="#000" stroke-width="0"/>
<polyline points="711,731 816,692" stroke-width="2.2" fill="none"/>
<circle cx="816" cy="692" r="2.2" fill="#000" stroke-width="0"/>
<polyline points="704,666 750,650" stroke-width="4" fill="none"/>
<polyline points="712,696 760,679" stroke-width="4" fill="none"/>
<text transform="translate(714 613) scale(1.16 1)" font-size="16">67</text>
<polyline points="714,626 735,656" stroke-width="1.5" fill="none"/>
<polyline points="680,793.3 724,777.3" stroke-width="2" fill="none"/>
<path d="M724.0,777.3 Q736.0,780.0 734.7,796.0" stroke-width="2" fill="none"/>
<polyline points="688,816 701.3,812" stroke-width="2" fill="none"/>
<ellipse cx="684.7" cy="805.3" rx="7.3" ry="11.3" transform="rotate(-18 684.7 805.3)" stroke-width="2.2" fill="#fff"/>
<polyline points="685.3,806.7 698.7,800.7" stroke-width="1.5" fill="none"/>
<path d="M702.0,811.3 Q693.3,828.0 706.7,842.7 Q713.3,846.7 720.0,842.7 L760.0,829.3 Q772.0,820.0 766.7,804.0 Q753.3,792.7 752.0,791.3 Z" stroke-width="2" fill="#fff"/>
<polygon points="701.3,809.3 752,790 753.3,793.3 702.7,812.7" stroke-width="1.8" fill="#fff"/>
<path d="M703.3,812.7 Q726.7,825.3 717.3,845.3" stroke-width="2" fill="none"/>
<polyline points="714.7,818.7 757.3,802.7" stroke-width="1.5" fill="none"/>
<polyline points="697.3,833.3 710.7,830.7" stroke-width="1.5" fill="none"/>
<polyline points="677.3,748 773.3,841.3" stroke-width="1.5" fill="none" stroke-dasharray="5,3"/>
<circle cx="726" cy="797.3" r="4.5" fill="none" stroke-width="2"/>
<circle cx="760" cy="829.6" r="3.5" fill="#000" stroke-width="0"/>
<ellipse cx="773.3" cy="841.3" rx="3.5" ry="4.5" transform="rotate(-40 773.3 841.3)" stroke-width="2" fill="none"/>
<circle cx="741.6" cy="844.7" r="3.5" fill="#000" stroke-width="0"/>
<ellipse cx="753.3" cy="856" rx="3.5" ry="4.5" transform="rotate(-40 753.3 856)" stroke-width="2" fill="none"/>
<polyline points="741.6,844.7 753.3,856" stroke-width="1.5" fill="none"/>
<polyline points="661.3,749.3 693.3,785.3" stroke-width="1.5" fill="none" stroke-dasharray="4,2"/>
<circle cx="661.3" cy="749.6" r="3" fill="#000" stroke-width="0"/>
<circle cx="672" cy="762.9" r="3" fill="#000" stroke-width="0"/>
<circle cx="680.7" cy="772" r="3" fill="#000" stroke-width="0"/>
<circle cx="684.7" cy="775.7" r="3" fill="#000" stroke-width="0"/>
<circle cx="693.3" cy="785.1" r="3" fill="#000" stroke-width="0"/>
<text transform="translate(716 756) scale(1.16 1)" font-size="16">78</text>
<polyline points="706.7,760.7 682.7,776" stroke-width="1.5" fill="none"/>
<text transform="translate(726.7 770) scale(1.16 1)" font-size="16">64</text>
<polyline points="714.7,774 693.3,782.7" stroke-width="1.5" fill="none"/>
<text transform="translate(636 823.3) scale(1.16 1)" font-size="16">85</text>
<polyline points="646,823.3 678.7,810.7" stroke-width="1.5" fill="none"/>
<text transform="translate(656 842.7) scale(1.16 1)" font-size="16">86</text>
<polyline points="665.3,841.3 710.7,830.7" stroke-width="1.5" fill="none"/>
<text transform="translate(678.7 866.7) scale(1.16 1)" font-size="16">29</text>
<polyline points="694,866 740.7,845.3" stroke-width="1.5" fill="none"/>
<text transform="translate(713.3 877.3) scale(1.16 1)" font-size="16">30</text>
<polyline points="724,880 752,856" stroke-width="1.5" fill="none"/>
<path d="M833.7,837.1 Q810.2,828.6 816.6,824.3 L835.8,832.9" stroke-width="2" fill="none"/>
<polyline points="793.1,854.2 816.6,851 878.5,824.3" stroke-width="2.2" fill="none"/>
<path d="M878.5,824.3 Q912.6,835.0 914.8,869.1 Q916.9,884.1 910.5,899.0" stroke-width="2.2" fill="none"/>
<polyline points="904.1,841.4 914.8,847.8 918,856.3" stroke-width="2" fill="none"/>
<circle cx="913.7" cy="847.8" r="5" fill="none" stroke-width="2"/>
<path d="M848.6,892.6 L902.0,870.2 Q923.3,879.8 922.2,903.3 Q916.9,920.4 902.0,923.6 L867.8,927.8 Q865.7,907.6 850.7,894.8 Z" stroke-width="2.2" fill="#fff"/>
<polygon points="846.5,889.4 902,867 903,871.3 848.6,894.8" stroke-width="1.8" fill="#fff"/>
<polyline points="850.7,890.5 902,870.2" stroke-width="1.2" fill="none"/>
<path d="M851.8,895.8 Q872.1,907.6 869.9,926.8" stroke-width="1.5" fill="none"/>
<polyline points="853.9,893.7 904.1,873.4" stroke-width="1.2" fill="none"/>
<polyline points="850.7,899 902,878.8" stroke-width="1.2" fill="none"/>
<circle cx="874.2" cy="877.7" r="5" fill="none" stroke-width="2.5"/>
<path d="M773.9,864.9 L793.1,854.2 L816.6,851.0 Q842.2,875.5 841.1,901.2 Q839.0,928.9 827.3,934.2 L801.6,937.4" stroke-width="2.2" fill="#fff"/>
<ellipse cx="791" cy="899" rx="29" ry="39.5" transform="rotate(-28 791 899)" stroke-width="2.5" fill="#fff"/>
<ellipse cx="789.9" cy="900.1" rx="25" ry="35" transform="rotate(-28 789.9 900.1)" stroke-width="1.2" fill="none"/>
<ellipse cx="786.7" cy="903.3" rx="21.5" ry="29.5" transform="rotate(-28 786.7 903.3)" stroke-width="1.5" fill="#2a2a2a"/>
<circle cx="767" cy="901.3" r="0.9" fill="#777" stroke-width="0"/>
<circle cx="769.6" cy="906.2" r="0.9" fill="#777" stroke-width="0"/>
<circle cx="772.1" cy="911" r="0.9" fill="#777" stroke-width="0"/>
<circle cx="774.7" cy="915.9" r="0.9" fill="#777" stroke-width="0"/>
<circle cx="777.3" cy="920.8" r="0.9" fill="#777" stroke-width="0"/>
<circle cx="766.7" cy="889" r="0.9" fill="#777" stroke-width="0"/>
<circle cx="769.2" cy="893.9" r="0.9" fill="#777" stroke-width="0"/>
<circle cx="771.8" cy="898.7" r="0.9" fill="#777" stroke-width="0"/>
<circle cx="774.4" cy="903.6" r="0.9" fill="#777" stroke-width="0"/>
<circle cx="777" cy="908.5" r="0.9" fill="#777" stroke-width="0"/>
<circle cx="779.6" cy="913.3" r="0.9" fill="#777" stroke-width="0"/>
<circle cx="782.2" cy="918.2" r="0.9" fill="#777" stroke-width="0"/>
<circle cx="784.7" cy="923" r="0.9" fill="#777" stroke-width="0"/>
<circle cx="787.3" cy="927.9" r="0.9" fill="#777" stroke-width="0"/>
<circle cx="771.5" cy="886.4" r="0.9" fill="#777" stroke-width="0"/>
<circle cx="774.1" cy="891.3" r="0.9" fill="#777" stroke-width="0"/>
<circle cx="776.7" cy="896.2" r="0.9" fill="#777" stroke-width="0"/>
<circle cx="779.3" cy="901" r="0.9" fill="#777" stroke-width="0"/>
<circle cx="781.9" cy="905.9" r="0.9" fill="#777" stroke-width="0"/>
<circle cx="784.4" cy="910.7" r="0.9" fill="#777" stroke-width="0"/>
<circle cx="787" cy="915.6" r="0.9" fill="#777" stroke-width="0"/>
<circle cx="789.6" cy="920.4" r="0.9" fill="#777" stroke-width="0"/>
<circle cx="792.2" cy="925.3" r="0.9" fill="#777" stroke-width="0"/>
<circle cx="773.8" cy="879" r="0.9" fill="#777" stroke-width="0"/>
<circle cx="776.4" cy="883.9" r="0.9" fill="#777" stroke-width="0"/>
<circle cx="779" cy="888.7" r="0.9" fill="#777" stroke-width="0"/>
<circle cx="781.5" cy="893.6" r="0.9" fill="#777" stroke-width="0"/>
<circle cx="784.1" cy="898.4" r="0.9" fill="#777" stroke-width="0"/>
<circle cx="786.7" cy="903.3" r="0.9" fill="#777" stroke-width="0"/>
<circle cx="789.3" cy="908.1" r="0.9" fill="#777" stroke-width="0"/>
<circle cx="791.9" cy="913" r="0.9" fill="#777" stroke-width="0"/>
<circle cx="794.5" cy="917.9" r="0.9" fill="#777" stroke-width="0"/>
<circle cx="797" cy="922.7" r="0.9" fill="#777" stroke-width="0"/>
<circle cx="799.6" cy="927.6" r="0.9" fill="#777" stroke-width="0"/>
<circle cx="781.2" cy="881.3" r="0.9" fill="#777" stroke-width="0"/>
<circle cx="783.8" cy="886.1" r="0.9" fill="#777" stroke-width="0"/>
<circle cx="786.4" cy="891" r="0.9" fill="#777" stroke-width="0"/>
<circle cx="789" cy="895.9" r="0.9" fill="#777" stroke-width="0"/>
<circle cx="791.6" cy="900.7" r="0.9" fill="#777" stroke-width="0"/>
<circle cx="794.1" cy="905.6" r="0.9" fill="#777" stroke-width="0"/>
<circle cx="796.7" cy="910.4" r="0.9" fill="#777" stroke-width="0"/>
<circle cx="799.3" cy="915.3" r="0.9" fill="#777" stroke-width="0"/>
<circle cx="801.9" cy="920.1" r="0.9" fill="#777" stroke-width="0"/>
<circle cx="786.1" cy="878.7" r="0.9" fill="#777" stroke-width="0"/>
<circle cx="788.7" cy="883.6" r="0.9" fill="#777" stroke-width="0"/>
<circle cx="791.3" cy="888.4" r="0.9" fill="#777" stroke-width="0"/>
<circle cx="793.8" cy="893.3" r="0.9" fill="#777" stroke-width="0"/>
<circle cx="796.4" cy="898.1" r="0.9" fill="#777" stroke-width="0"/>
<circle cx="799" cy="903" r="0.9" fill="#777" stroke-width="0"/>
<circle cx="801.6" cy="907.8" r="0.9" fill="#777" stroke-width="0"/>
<circle cx="804.2" cy="912.7" r="0.9" fill="#777" stroke-width="0"/>
<circle cx="806.7" cy="917.6" r="0.9" fill="#777" stroke-width="0"/>
<circle cx="796.1" cy="885.8" r="0.9" fill="#777" stroke-width="0"/>
<circle cx="798.7" cy="890.7" r="0.9" fill="#777" stroke-width="0"/>
<circle cx="801.3" cy="895.5" r="0.9" fill="#777" stroke-width="0"/>
<circle cx="803.9" cy="900.4" r="0.9" fill="#777" stroke-width="0"/>
<circle cx="806.4" cy="905.3" r="0.9" fill="#777" stroke-width="0"/>
<polygon points="782.4,903.3 786.7,898 792,903.3 786.7,908.6" stroke-width="2" fill="#fff"/>
<circle cx="833.7" cy="885.2" r="4" fill="#000" stroke-width="0"/>
<polyline points="814.5,799.8 839,809.4 850.7,844.6" stroke-width="1.5" fill="none"/>
<text transform="translate(845.4 805.1) scale(1.16 1)" font-size="16">7</text>
<polyline points="832,929.6 868.8,948.8 910.4,925.6 910.4,950.4 904,953.9 872,943.2 869.6,945.6" stroke-width="2" fill="none"/>
<polyline points="868.8,944 872,939.2 910.4,923.2 910.4,925.6" stroke-width="2" fill="none"/>
<polyline points="868.8,944 868.8,948.8" stroke-width="2" fill="none"/>
<circle cx="899.2" cy="944.8" r="4.2" fill="#000" stroke-width="0"/>
<polyline points="872,940.8 878.4,938.4" stroke-width="5" fill="none"/>
<polyline points="819.2,987.2 864,964" stroke-width="1.5" fill="none"/>
<circle cx="860.8" cy="966.4" r="4" fill="none" stroke-width="2.2"/>
<circle cx="837.6" cy="978.4" r="4.2" fill="#000" stroke-width="0"/>
<circle cx="814.4" cy="990.4" r="3.2" fill="none" stroke-width="2"/>
<polyline points="816.8,988.8 821.6,986.7" stroke-width="3.5" fill="none"/>
<polyline points="876.8,948.8 876.8,960" stroke-width="1.5" fill="none"/>
<ellipse cx="876.8" cy="961.6" rx="4.5" ry="2.5" transform="rotate(0 876.8 961.6)" stroke-width="2.5" fill="none"/>
<ellipse cx="876.8" cy="968.8" rx="4.5" ry="2.5" transform="rotate(0 876.8 968.8)" stroke-width="1" fill="#000"/>
<polyline points="876.8,976 876.8,988" stroke-width="4.5" fill="none"/>
<polyline points="876.8,976 876.8,988" stroke-width="2" fill="none"/>
<text transform="translate(841.6 952) scale(1.16 1)" font-size="16">5</text>
<polyline points="849.6,956.8 858.4,964" stroke-width="1.5" fill="none"/>
<text transform="translate(896 961.6) scale(1.16 1)" font-size="16">5</text>
<polyline points="891.2,963.2 881.6,961.6" stroke-width="1.5" fill="none"/>
<text transform="translate(824 967.2) scale(1.16 1)" font-size="16">4</text>
<polyline points="827.2,972.8 835.2,976.8" stroke-width="1.5" fill="none"/>
<text transform="translate(896 975.2) scale(1.16 1)" font-size="16">4</text>
<polyline points="891.2,974.4 881.6,970.4" stroke-width="1.5" fill="none"/>
<text transform="translate(806.4 974.4) scale(1.16 1)" font-size="16">3</text>
<polyline points="811.2,979.2 816,987.2" stroke-width="1.5" fill="none"/>
<text transform="translate(856 984.8) scale(1.16 1)" font-size="16">3</text>
<polyline points="860.8,984 872,981.6" stroke-width="1.5" fill="none"/>
<text transform="translate(952 905.6) scale(1.16 1)" font-size="16">6</text>
<polyline points="942.4,908 912,928" stroke-width="1.5" fill="none"/>
<polyline points="884.8,990.4 886.4,995.2" stroke-width="4" fill="none"/>
<polyline points="881.6,1014.4 896,1038.4" stroke-width="2" fill="none"/>
<polyline points="902.4,1019.2 904.8,1038.4" stroke-width="2" fill="none"/>
<path d="M854.4,1049.6 L894.4,1032.0 Q907.2,1033.6 902.4,1044.8 L864.0,1065.6" stroke-width="2.2" fill="none"/>
<ellipse cx="858.4" cy="1057.6" rx="6" ry="8.5" transform="rotate(-25 858.4 1057.6)" stroke-width="2.2" fill="#fff"/>
<ellipse cx="890.4" cy="1009.6" rx="11" ry="13" transform="rotate(-25 890.4 1009.6)" stroke-width="2" fill="#fff"/>
<ellipse cx="888" cy="1008" rx="6" ry="8" transform="rotate(-25 888 1008)" stroke-width="2" fill="none"/>
<polyline points="883.2,1024 896,1038.4" stroke-width="1.2" fill="none"/>
<text transform="translate(904.8 1060) scale(1.16 1)" font-size="16">31</text>
<polyline points="896,1056 881.6,1049.6" stroke-width="1.5" fill="none"/>
<polyline points="894.4,992.8 900.8,990.4" stroke-width="4.5" fill="none"/>
<path d="M913.6,988.8 L920.0,985.6 Q929.6,988.8 924.8,998.4 L916.0,1001.6" stroke-width="2" fill="none"/>
<ellipse cx="914.4" cy="995.2" rx="5" ry="7" transform="rotate(-25 914.4 995.2)" stroke-width="2" fill="#fff"/>
<circle cx="914.4" cy="995.2" r="2.5" fill="none" stroke-width="1.5"/>
<polyline points="930.6,983.2 1016,938.4" stroke-width="2" fill="none"/>
<polyline points="933.4,988.8 1018.8,944" stroke-width="2" fill="none"/>
<ellipse cx="931.2" cy="985.9" rx="3" ry="4" transform="rotate(-25 931.2 985.9)" stroke-width="1.8" fill="none"/>
<polyline points="958.4,968.8 960,976" stroke-width="1.2" fill="none"/>
<text transform="translate(977.6 1002.4) scale(1.16 1)" font-size="16">34</text>
<polyline points="966.4,997.6 945.6,980" stroke-width="1.5" fill="none"/>
<text transform="translate(956 1013.6) scale(1.16 1)" font-size="16">33</text>
<polyline points="947.2,1008 924.8,995.2" stroke-width="1.5" fill="none"/>
<text transform="translate(932 1018.4) scale(1.16 1)" font-size="16">32</text>
<polyline points="921.6,1012.8 900.8,993.6" stroke-width="1.5" fill="none"/>
<text transform="translate(976.8 1032.8) scale(1.16 1)" font-size="16">2</text>
<polyline points="982.4,1026.4 1000,1012.8" stroke-width="1.5" fill="none"/>
<polyline points="1134.5,860.2 1233.4,910.6" stroke-width="2" fill="none"/>
<polyline points="1134.5,873.3 1226,917.2" stroke-width="2" fill="none"/>
<polyline points="1134.5,860.2 1134.5,892" stroke-width="2" fill="none"/>
<polyline points="1082.3,922.8 1134.5,892" stroke-width="2" fill="none"/>
<polyline points="1082.3,977.8 1216.6,918.1" stroke-width="2" fill="none"/>
<polyline points="1082.3,994.6 1226,922.8" stroke-width="2" fill="none"/>
<path d="M1235.3,793.1 Q1254.0,791.2 1254.0,808.0 L1254.0,910.6 Q1254.0,925.6 1227.8,914.4" stroke-width="2.2" fill="none"/>
<path d="M1231.6,806.1 Q1242.8,800.5 1242.8,813.6 L1242.8,906.9 Q1242.8,914.4 1233.4,910.6" stroke-width="2.2" fill="none"/>
<polyline points="1242.8,813.6 1254,813.6" stroke-width="1.2" fill="none"/>
<polyline points="1242.8,908.8 1254,908.8" stroke-width="1.2" fill="none"/>
<polyline points="1095.3,867.7 1235.3,793.1" stroke-width="2.2" fill="none"/>
<polyline points="1102.8,877 1231.6,806.1" stroke-width="2.2" fill="none"/>
<path d="M1069.2,1004.0 L1069.2,910.6 Q1070.1,877.0 1095.3,867.7" stroke-width="2.2" fill="none"/>
<path d="M1082.3,1004.0 L1082.3,910.6 Q1084.1,884.5 1102.8,877.0" stroke-width="2.2" fill="none"/>
<path d="M1069.2,1004.0 Q1075.7,1020.7 1082.3,1004.0" stroke-width="2.2" fill="none"/>
<polyline points="1069.2,908.8 1082.3,908.8" stroke-width="1.2" fill="none"/>
<polyline points="1095.3,867.7 1101.9,878" stroke-width="1.2" fill="none"/>
<polyline points="1069.2,1003 1082.3,1003" stroke-width="1.2" fill="none"/>
<polygon points="1097.2,865.8 1112.1,858.4 1115.8,862.1 1100.9,869.6" stroke-width="1.8" fill="none"/>
<ellipse cx="1105.6" cy="863" rx="3" ry="2" transform="rotate(-25 1105.6 863)" stroke-width="0" fill="#000"/>
<circle cx="1129.8" cy="875.2" r="2" fill="#000" stroke-width="0"/>
<circle cx="1123.3" cy="866.8" r="2" fill="#000" stroke-width="0"/>
<circle cx="1102.8" cy="878" r="2" fill="#000" stroke-width="0"/>
<polygon points="1050.5,959.2 1117.7,924.6 1119.6,940.5 1130.8,944.2 1050.5,979.7" stroke-width="2" fill="#fff"/>
<polyline points="1050.5,959.2 1050.5,979.7" stroke-width="1.5" fill="none"/>
<polyline points="1117.7,924.6 1117.7,942.4" stroke-width="1.2" fill="none"/>
<path d="M1062.7,960.1 L1100.9,938.6 Q1108.4,940.5 1102.8,946.1 L1063.6,966.6 Q1058.0,964.8 1062.7,960.1" stroke-width="1.8" fill="none"/>
<ellipse cx="1121.4" cy="947" rx="5" ry="2.5" transform="rotate(-20 1121.4 947)" stroke-width="1.8" fill="none"/>
<polyline points="1069.2,959.2 1069.2,1004" stroke-width="2.2" fill="none"/>
<polyline points="1082.3,953.6 1082.3,1004" stroke-width="2.2" fill="none"/>
<polyline points="1069.6,959.2 1081.9,953.6" stroke-width="0" fill="none"/>
<text transform="translate(1100 1024.5) scale(1.16 1)" font-size="16">61</text>
<polyline points="1100.9,1015.1 1087.9,962.9" stroke-width="1.5" fill="none"/>
<polyline points="1121.4,948 1121.4,1017" stroke-width="1.5" fill="none"/>
<ellipse cx="1121.4" cy="991.8" rx="5" ry="2.3" transform="rotate(0 1121.4 991.8)" stroke-width="1" fill="#000"/>
<ellipse cx="1121.4" cy="1004.9" rx="5" ry="2.3" transform="rotate(0 1121.4 1004.9)" stroke-width="1" fill="#000"/>
<polyline points="1119.2,1014.2 1119.2,1024.5 1123.7,1024.5 1123.7,1014.2" stroke-width="1.8" fill="none"/>
<text transform="translate(1153.2 990.9) scale(1.16 1)" font-size="16">5</text>
<polyline points="1140.1,991.8 1125.6,991.8" stroke-width="1.5" fill="none"/>
<text transform="translate(1153.2 1010.5) scale(1.16 1)" font-size="16">4</text>
<polyline points="1140.1,1007.7 1125.6,1004.9" stroke-width="1.5" fill="none"/>
<text transform="translate(1142 1042.2) scale(1.16 1)" font-size="16">43</text>
<polyline points="1138.2,1035.7 1123.3,1018.9" stroke-width="1.5" fill="none"/>
<text transform="translate(1156 896.6) scale(1.16 1)" font-size="16">35</text>
<polyline points="1143.8,895.7 1125.2,889.2" stroke-width="1.5" fill="none"/>
<ellipse cx="1196.1" cy="847.2" rx="4" ry="5.5" transform="rotate(-30 1196.1 847.2)" stroke-width="2" fill="none"/>
<polyline points="1186.8,842.5 1194.2,845.3" stroke-width="3" fill="none"/>
<polyline points="1189.6,853.7 1189.6,863" stroke-width="4" fill="none"/>
<text transform="translate(1210.1 836.9) scale(1.16 1)" font-size="16">41</text>
<polyline points="1205.4,839.7 1198,844.4" stroke-width="1.5" fill="none"/>
<text transform="translate(1223.2 861.2) scale(1.16 1)" font-size="16">42</text>
<polyline points="1212.9,860.2 1192.4,858.4" stroke-width="1.5" fill="none"/>
<text transform="translate(1171.8 856.5) scale(1.16 1)" font-size="16">11</text>
<polyline points="1169,850 1134.5,820.1" stroke-width="1.5" fill="none"/>
<text transform="translate(1168.1 867.7) scale(1.16 1)" font-size="16">14</text>
<polyline points="1158.8,866.8 1100.9,837.9" stroke-width="1.5" fill="none"/>
<polyline points="1156.9,847.2 1192.4,829.5" stroke-width="4" fill="none"/>
<polyline points="1158.8,850 1193.3,831.3" stroke-width="1.2" fill="none"/>
<polyline points="1059.9,981.6 1059.9,1052.5" stroke-width="1.5" fill="none"/>
<polyline points="1065.5,981.6 1065.5,1052.5" stroke-width="1.5" fill="none"/>
<ellipse cx="1059.9" cy="1028.2" rx="4" ry="2.2" transform="rotate(0 1059.9 1028.2)" stroke-width="1" fill="#000"/>
<ellipse cx="1059.9" cy="1041.3" rx="4" ry="2.2" transform="rotate(0 1059.9 1041.3)" stroke-width="1" fill="#000"/>
<ellipse cx="1065.5" cy="1022.6" rx="4" ry="2.2" transform="rotate(0 1065.5 1022.6)" stroke-width="1" fill="#000"/>
<ellipse cx="1065.5" cy="1035.7" rx="4" ry="2.2" transform="rotate(0 1065.5 1035.7)" stroke-width="1" fill="#000"/>
<polyline points="1058,1050.6 1058,1059 1061.7,1059 1061.7,1050.6" stroke-width="1.8" fill="none"/>
<polyline points="1063.6,1045 1063.6,1054.3 1067.3,1054.3 1067.3,1045" stroke-width="1.8" fill="none"/>
<polyline points="1008,769 1159,829" stroke-width="2.2" fill="none"/>
<polyline points="1159,829 1192,812" stroke-width="2" fill="none"/>
<polyline points="1192,743 1192,812" stroke-width="2" fill="none"/>
<polyline points="1158,748 1192,732" stroke-width="1.8" fill="none"/>
<path d="M888.8,837.5 L888.8,810.0 Q890.0,770.0 920.0,762.5 L1005.0,718.8" stroke-width="2.2" fill="none"/>
<path d="M901.2,842.5 L901.2,812.5 Q903.8,785.0 923.8,777.5 L1005.0,733.8" stroke-width="2.2" fill="none"/>
<polyline points="888.8,810 901.2,812.5" stroke-width="1.2" fill="none"/>
<polyline points="917.5,762.5 921.2,777.5" stroke-width="1.2" fill="none"/>
<polyline points="983.8,728.8 987.5,743.8" stroke-width="1.2" fill="none"/>
<polygon points="916.2,767.5 932.5,760 935,765 918.8,772.5" stroke-width="1.8" fill="none"/>
<ellipse cx="925.5" cy="766.2" rx="3" ry="2" transform="rotate(-25 925.5 766.2)" stroke-width="1.5" fill="none"/>
<circle cx="970" cy="665" r="2.8" fill="#fff" stroke-width="1.8"/>
<circle cx="967.8" cy="671" r="2.8" fill="#fff" stroke-width="1.8"/>
<circle cx="962.5" cy="673.5" r="2.8" fill="#fff" stroke-width="1.8"/>
<circle cx="957.2" cy="671" r="2.8" fill="#fff" stroke-width="1.8"/>
<circle cx="955" cy="665" r="2.8" fill="#fff" stroke-width="1.8"/>
<circle cx="957.2" cy="659" r="2.8" fill="#fff" stroke-width="1.8"/>
<circle cx="962.5" cy="656.5" r="2.8" fill="#fff" stroke-width="1.8"/>
<circle cx="967.8" cy="659" r="2.8" fill="#fff" stroke-width="1.8"/>
<circle cx="962.5" cy="665" r="7.5" fill="#fff" stroke-width="0"/>
<polyline points="967.5,662.5 981.2,666.2 985,676.2 970,675" stroke-width="2" fill="none"/>
<ellipse cx="982.5" cy="671.2" rx="4" ry="5" transform="rotate(-20 982.5 671.2)" stroke-width="1.8" fill="none"/>
<ellipse cx="993.8" cy="681.2" rx="4.2" ry="5.2" transform="rotate(-20 993.8 681.2)" stroke-width="2" fill="none"/>
<circle cx="993.8" cy="681.2" r="1.5" fill="#000" stroke-width="0"/>
<polyline points="997.5,683.8 1007.5,688.8" stroke-width="1.5" fill="none"/>
<text transform="translate(925 673.8) scale(1.16 1)" font-size="16">17</text>
<polyline points="937.5,673.8 955,670" stroke-width="1.5" fill="none"/>
<text transform="translate(941.2 698.8) scale(1.16 1)" font-size="16">16</text>
<polyline points="950,700 990,685" stroke-width="1.5" fill="none"/>
<text transform="translate(961.2 718.8) scale(1.16 1)" font-size="16">8</text>
<polyline points="967.5,716.2 1010,707.5" stroke-width="1.5" fill="none"/>
<circle cx="1003.2" cy="635" r="2.8" fill="#fff" stroke-width="1.8"/>
<circle cx="1001.2" cy="640.7" r="2.8" fill="#fff" stroke-width="1.8"/>
<circle cx="996.2" cy="643" r="2.8" fill="#fff" stroke-width="1.8"/>
<circle cx="991.3" cy="640.7" r="2.8" fill="#fff" stroke-width="1.8"/>
<circle cx="989.2" cy="635" r="2.8" fill="#fff" stroke-width="1.8"/>
<circle cx="991.3" cy="629.3" r="2.8" fill="#fff" stroke-width="1.8"/>
<circle cx="996.2" cy="627" r="2.8" fill="#fff" stroke-width="1.8"/>
<circle cx="1001.2" cy="629.3" r="2.8" fill="#fff" stroke-width="1.8"/>
<circle cx="996.2" cy="635" r="7" fill="#fff" stroke-width="0"/>
<circle cx="996.2" cy="635" r="4" fill="none" stroke-width="1.5"/>
<polyline points="982.5,627.5 990,631.2" stroke-width="3" fill="none"/>
<ellipse cx="988.5" cy="778.5" rx="11.6" ry="15.7" transform="rotate(-28 988.5 778.5)" stroke-width="2" fill="#fff"/>
<ellipse cx="982.2" cy="782" rx="11.6" ry="15.7" transform="rotate(-28 982.2 782)" stroke-width="2" fill="#fff"/>
<ellipse cx="975.9" cy="785.5" rx="10.7" ry="14.4" transform="rotate(-28 975.9 785.5)" stroke-width="2" fill="#fff"/>
<ellipse cx="969.6" cy="789" rx="9.8" ry="13.1" transform="rotate(-28 969.6 789)" stroke-width="2" fill="#fff"/>
<ellipse cx="963.3" cy="792.5" rx="8.9" ry="11.8" transform="rotate(-28 963.3 792.5)" stroke-width="2" fill="#fff"/>
<ellipse cx="957" cy="796" rx="8" ry="10.5" transform="rotate(-28 957 796)" stroke-width="2" fill="#fff"/>
<ellipse cx="957" cy="796" rx="7.5" ry="10" transform="rotate(-28 957 796)" stroke-width="3" fill="#fff"/>
<text transform="translate(955 821) scale(1.16 1)" font-size="16">9</text>
<polyline points="955,811 960,800" stroke-width="1.5" fill="none"/>
<ellipse cx="1025" cy="811.2" rx="3.5" ry="4.5" transform="rotate(-25 1025 811.2)" stroke-width="2.2" fill="#000"/>
<polyline points="1027.5,812.5 1037.5,817.5" stroke-width="4" fill="none"/>
<circle cx="1040" cy="818.8" r="3.8" fill="none" stroke-width="2.2"/>
<polyline points="1042.5,821.2 1080,837.5" stroke-width="1.5" fill="none"/>
<text transform="translate(987.5 816.2) scale(1.16 1)" font-size="16">36</text>
<polyline points="1002.5,816.2 1022.5,815" stroke-width="1.5" fill="none"/>
<text transform="translate(1005 830) scale(1.16 1)" font-size="16">13</text>
<polyline points="1017.5,827.5 1036.2,823.8" stroke-width="1.5" fill="none"/>
<text transform="translate(1050 805) scale(1.16 1)" font-size="16">13</text>
<polyline points="1060,808.8 1095,812.5" stroke-width="1.5" fill="none"/>
<circle cx="1097.5" cy="811.2" r="5" fill="none" stroke-width="2.2"/>
<circle cx="1097.5" cy="811.2" r="2" fill="#000" stroke-width="0"/>
<circle cx="1097.5" cy="833.8" r="5" fill="none" stroke-width="2.2"/>
<circle cx="1097.5" cy="833.8" r="2" fill="#000" stroke-width="0"/>
<circle cx="1113.8" cy="825" r="3.8" fill="#000" stroke-width="0"/>
<ellipse cx="1130" cy="835" rx="3" ry="5" transform="rotate(-20 1130 835)" stroke-width="2" fill="none"/>
<polyline points="1055,827.5 1132.5,865" stroke-width="1.5" fill="none"/>
<polyline points="1055,795 1160,847.5" stroke-width="1.5" fill="none"/>
<polyline points="1100,808.8 1125,800" stroke-width="1.5" fill="none"/>
<path d="M1123.8,795.0 L1130.0,787.5 Q1142.5,790.0 1141.2,807.5 L1132.5,818.8 Q1120.0,812.5 1123.8,795.0 Z" stroke-width="2.2" fill="#fff"/>
<ellipse cx="1126.2" cy="810" rx="5" ry="6" transform="rotate(-20 1126.2 810)" stroke-width="2" fill="none"/>
<circle cx="1126.2" cy="810" r="2.5" fill="#000" stroke-width="0"/>
<polyline points="1112.5,802.5 1125,797.5" stroke-width="4" fill="none"/>
<polyline points="1145,787.5 1151.2,782.5" stroke-width="3" fill="none"/>
<polyline points="1145,807.5 1151.2,803.8" stroke-width="3" fill="none"/>
<polyline points="1000,875 1067.5,843" stroke-width="2" fill="none"/>
<polyline points="1002.5,883.8 1070,851.2" stroke-width="2" fill="none"/>
<ellipse cx="1000" cy="879.5" rx="4.5" ry="5.5" transform="rotate(-25 1000 879.5)" stroke-width="2" fill="#fff"/>
<circle cx="1000" cy="879.5" r="2" fill="#000" stroke-width="0"/>
<ellipse cx="1068" cy="847.5" rx="4.5" ry="5.5" transform="rotate(-25 1068 847.5)" stroke-width="2" fill="#fff"/>
<text transform="translate(1015 843.8) scale(1.16 1)" font-size="16">39</text>
<polyline points="1020,851.2 1032.5,860" stroke-width="1.5" fill="none"/>
<circle cx="978.8" cy="867.5" r="2.8" fill="#000" stroke-width="0"/>
<circle cx="993.8" cy="875" r="4.8" fill="none" stroke-width="2.2"/>
<circle cx="993.8" cy="875" r="2" fill="#000" stroke-width="0"/>
<text transform="translate(955 841.2) scale(1.16 1)" font-size="16">40</text>
<polyline points="962.5,850 977.5,866.2" stroke-width="1.5" fill="none"/>
<polyline points="975,907.5 1040,892.5" stroke-width="1.5" fill="none"/>
<polygon points="1041.2,896.6 1054.3,899.4 1054.3,934.9 1041.2,929.3" stroke-width="2" fill="#fff"/>
<polyline points="1041.2,896.6 1048.7,892 1054.3,899.4" stroke-width="1.5" fill="none"/>
<ellipse cx="1058" cy="910.6" rx="2" ry="3" transform="rotate(0 1058 910.6)" stroke-width="1.5" fill="none"/>
<ellipse cx="1045.9" cy="923.7" rx="3" ry="3.5" transform="rotate(0 1045.9 923.7)" stroke-width="1.5" fill="none"/>
<ellipse cx="1020" cy="896.2" rx="3.5" ry="4.5" transform="rotate(-25 1020 896.2)" stroke-width="2.2" fill="#000"/>
<polyline points="1022.5,897.5 1033.8,902.5" stroke-width="4" fill="none"/>
<circle cx="1035" cy="903.8" r="3.8" fill="none" stroke-width="2.2"/>
<text transform="translate(1013.8 918.8) scale(1.16 1)" font-size="16">36</text>
<text transform="translate(1031.2 921.2) scale(1.16 1)" font-size="16">13</text>
<polyline points="1016.2,912.5 1030,905" stroke-width="1.2" fill="none"/>
<circle cx="1023.8" cy="936.2" r="5" fill="none" stroke-width="2.5"/>
<circle cx="1023.8" cy="936.2" r="2" fill="#000" stroke-width="0"/>
<path d="M1032.5,931.2 L1045.0,926.2 Q1060.0,935.0 1050.0,950.0 L1037.5,947.5" stroke-width="2" fill="none"/>
<ellipse cx="1050" cy="941.2" rx="6" ry="7.5" transform="rotate(-25 1050 941.2)" stroke-width="2" fill="#fff"/>
<circle cx="1050" cy="941.2" r="2.5" fill="none" stroke-width="1.5"/>
<polyline points="980,912.5 1020,935" stroke-width="1.2" fill="none"/>
<text transform="translate(993.8 933.8) scale(1.16 1)" font-size="16">38</text>
<polyline points="1005,933.8 1018.8,935" stroke-width="1.5" fill="none"/>
<text transform="translate(1033 971) scale(1.16 1)" font-size="16">37</text>
<polyline points="1036,960 1048,945" stroke-width="1.5" fill="none"/>
<circle cx="1205.6" cy="753.6" r="4.2" fill="#000" stroke-width="0"/>
<polyline points="1203.2,755.2 1194.4,759.2" stroke-width="4" fill="none"/>
<polyline points="1202.4,755.2 1194.4,759.2" stroke-width="1.5" fill="none"/>
<circle cx="1205.6" cy="776" r="4.2" fill="#000" stroke-width="0"/>
<polyline points="1203.2,777.6 1195.2,780" stroke-width="4" fill="none"/>
<polyline points="1163.2,772.8 1276.8,832.8" stroke-width="1.5" fill="none"/>
<polyline points="1174.4,788 1236.8,820" stroke-width="1.5" fill="none"/>
<ellipse cx="1197.6" cy="801.6" rx="3.5" ry="4.5" transform="rotate(-25 1197.6 801.6)" stroke-width="2.2" fill="none"/>
<circle cx="1219.2" cy="800" r="3.5" fill="none" stroke-width="2"/>
<circle cx="1232" cy="820" r="3" fill="#000" stroke-width="0"/>
<circle cx="1164.8" cy="772.8" r="3" fill="none" stroke-width="1.5"/>
<path d="M1230.4,792.8 Q1256.0,788.0 1256.0,812.0 L1256.0,900.0" stroke-width="2.2" fill="none"/>
<path d="M1233.6,804.0 Q1243.2,800.8 1243.2,815.2 L1243.2,900.0" stroke-width="2.2" fill="none"/>
<polyline points="1243.2,813.6 1256,814.4" stroke-width="1.2" fill="none"/>
<polyline points="1160,829.6 1230.4,792.8" stroke-width="2.2" fill="none"/>
<polyline points="1160,844 1233.6,804" stroke-width="2.2" fill="none"/>
<polygon points="1214.4,800.8 1227.2,795.2 1233.6,804 1220.8,810.4" stroke-width="1.5" fill="none"/>
<ellipse cx="1276.8" cy="834.4" rx="4.5" ry="6" transform="rotate(-20 1276.8 834.4)" stroke-width="2.2" fill="#fff"/>
<circle cx="1276.8" cy="834.4" r="1.8" fill="#000" stroke-width="0"/>
<circle cx="1283.2" cy="839.2" r="1.5" fill="#000" stroke-width="0"/>
<path d="M1286.4,840.8 Q1289.6,832.8 1297.6,836.0 L1308.8,842.4 L1300.8,856.8 Q1288.0,852.0 1286.4,840.8 Z" stroke-width="2" fill="#fff"/>
<polygon points="1304,839.2 1318.4,839.2 1321.6,848.8 1318.4,858.4 1310.4,866.4 1300.8,863.2 1297.6,855.2" stroke-width="2.2" fill="#fff"/>
<ellipse cx="1305.6" cy="850.4" rx="5" ry="7" transform="rotate(-20 1305.6 850.4)" stroke-width="2.5" fill="none"/>
<text transform="translate(1228 748.8) scale(1.16 1)" font-size="16">12</text>
<polyline points="1208,754.4 1219.2,752" stroke-width="1.5" fill="none"/>
<text transform="translate(1230.4 769.6) scale(1.16 1)" font-size="16">58</text>
<polyline points="1224,776 1198.4,800" stroke-width="1.5" fill="none"/>
<text transform="translate(1252 776) scale(1.16 1)" font-size="16">29</text>
<polyline points="1246.4,782.4 1227.2,815.2" stroke-width="1.5" fill="none"/>
<text transform="translate(1277.6 788.8) scale(1.16 1)" font-size="16">64</text>
<polyline points="1267.2,796 1240,813.6" stroke-width="1.5" fill="none"/>
<text transform="translate(1340.8 785.6) scale(1.16 1)" font-size="16">16</text>
<polyline points="1332,792 1281.6,829.6" stroke-width="1.5" fill="none"/>
<text transform="translate(1379.2 811.2) scale(1.16 1)" font-size="16">17</text>
<polyline points="1371.2,816.8 1320,844" stroke-width="1.5" fill="none"/>
<polyline points="1216.4,937.6 1223.9,941.3" stroke-width="4" fill="none"/>
<polyline points="1223.9,941.3 1284.5,994.5" stroke-width="1.5" fill="none"/>
<polyline points="1214.5,950.7 1222,954.4" stroke-width="4" fill="none"/>
<polyline points="1222,954.4 1236,960.9" stroke-width="1.5" fill="none"/>
<path d="M1234.1,964.7 Q1230.4,949.7 1239.7,946.0" stroke-width="3" fill="none"/>
<polyline points="1222.9,939.5 1280.8,918.9" stroke-width="1.5" fill="none"/>
<polyline points="1239.7,949.7 1299.4,929.2" stroke-width="1.5" fill="none"/>
<text transform="translate(1292 914.3) scale(1.16 1)" font-size="16">66</text>
<text transform="translate(1310.6 927.3) scale(1.16 1)" font-size="16">65</text>
<path d="M1205.2,984.2 L1260.2,954.4 Q1265.8,952.5 1280.8,961.9 L1286.4,966.5 Q1289.2,972.1 1288.2,1003.8 L1226.7,1038.4 L1200.5,1024.4 L1199.6,990.8 L1200.5,987.0 Q1202.4,985.2 1205.2,984.2 Z" stroke-width="2.2" fill="#fff"/>
<path d="M1202.4,987.0 L1222.9,997.3 Q1230.4,1002.0 1230.4,1011.3 L1229.5,1037.4" stroke-width="2" fill="none"/>
<polyline points="1230.4,1000.1 1284.5,972.1 1287.3,968.4" stroke-width="2" fill="none"/>
<polygon points="1237.9,1002 1282.6,979.6 1283.6,1005.7 1238.8,1030" stroke-width="2" fill="none"/>
<polygon points="1241.6,1003.8 1280.8,984.2 1281.7,1002 1241.6,1024.4" stroke-width="1.5" fill="none"/>
<polygon points="1248.1,1006.6 1277,991.7 1277,1007.6 1249.1,1022.5" stroke-width="2" fill="none"/>
<ellipse cx="1267.7" cy="1002" rx="5" ry="3" transform="rotate(-25 1267.7 1002)" stroke-width="2" fill="none"/>
<polyline points="1265.8,1016.9 1265.8,1039.3" stroke-width="1.5" fill="none"/>
<circle cx="1233.2" cy="1018.8" r="3" fill="none" stroke-width="1.8"/>
<polyline points="1235.1,1020.6 1290.1,1050.5" stroke-width="1.5" fill="none" stroke-dasharray="4,2"/>
<circle cx="1278" cy="1043" r="3" fill="#000" stroke-width="0"/>
<ellipse cx="1289.2" cy="1049.6" rx="4" ry="3" transform="rotate(30 1289.2 1049.6)" stroke-width="2" fill="none"/>
<polyline points="1288.2,991.7 1310.6,1002" stroke-width="1.5" fill="none" stroke-dasharray="4,2"/>
<circle cx="1310.6" cy="1002" r="2.5" fill="#000" stroke-width="0"/>
<ellipse cx="1320.9" cy="1007.9" rx="4" ry="3" transform="rotate(30 1320.9 1007.9)" stroke-width="2" fill="none"/>
<text transform="translate(1335.8 976.8) scale(1.16 1)" font-size="16">44</text>
<polyline points="1323.7,976.8 1290.1,985.2" stroke-width="1.5" fill="none"/>
<text transform="translate(1349.8 990.8) scale(1.16 1)" font-size="16">29</text>
<polyline points="1338.6,993.6 1312.5,1002" stroke-width="1.5" fill="none"/>
<text transform="translate(1358.2 1005.7) scale(1.16 1)" font-size="16">20</text>
<polyline points="1344.2,1005.7 1323.7,1007.6" stroke-width="1.5" fill="none"/>
<polygon points="1283.6,1018.8 1303.2,1008.5 1329.3,1015 1331.2,1033.7 1304.1,1051.4 1283.6,1035.6" stroke-width="2" fill="#fff"/>
<polyline points="1283.6,1018.8 1301.3,1028.1 1329.3,1015" stroke-width="1.8" fill="none"/>
<polyline points="1301.3,1028.1 1304.1,1051.4" stroke-width="1.8" fill="none"/>
<polyline points="1316.2,1021.6 1318.1,1039.3" stroke-width="1.8" fill="none"/>
<polygon points="1306.9,1031.8 1314.4,1029 1315.3,1043 1307.8,1045.8" stroke-width="1.5" fill="none"/>
<polyline points="1309.7,1034.6 1310.6,1042.1" stroke-width="3" fill="none"/>
<ellipse cx="1325.6" cy="1030.9" rx="3.5" ry="4" transform="rotate(0 1325.6 1030.9)" stroke-width="1.8" fill="none"/>
<text transform="translate(1363.8 1026.2) scale(1.16 1)" font-size="16">45</text>
<polyline points="1353.6,1027.2 1331.2,1028.1" stroke-width="1.5" fill="none"/>
<path d="M1262.1,1048.6 L1263.0,1044.9 Q1267.7,1042.1 1272.4,1044.9 L1273.3,1052.4 Q1267.7,1058.9 1260.2,1054.2 Z" stroke-width="2.5" fill="#fff"/>
<ellipse cx="1266.8" cy="1053.3" rx="6.5" ry="4" transform="rotate(0 1266.8 1053.3)" stroke-width="3" fill="none"/>
<text transform="translate(1292 1070.1) scale(1.16 1)" font-size="16">48</text>
<polyline points="1281.7,1065.4 1271.4,1058" stroke-width="1.5" fill="none"/>
<polyline points="1220.1,1044 1216.4,1070.1 1219.2,1077.6 1222,1100.9" stroke-width="2" fill="none"/>
<polyline points="1229.5,1044 1232.3,1070.1 1230.4,1077.6 1229.5,1100.9" stroke-width="2" fill="none"/>
<ellipse cx="1224.8" cy="1044" rx="4.5" ry="1.8" transform="rotate(0 1224.8 1044)" stroke-width="2" fill="none"/>
<polyline points="1217.3,1071 1232.3,1071" stroke-width="3" fill="none"/>
<polyline points="1218.3,1074.8 1231.3,1074.8" stroke-width="3" fill="none"/>
<polyline points="1222,1100.9 1216.4,1103.7 1216.4,1141.9 1222.9,1151.3" stroke-width="2" fill="none"/>
<polyline points="1229.5,1100.9 1233.2,1104.6 1234.1,1119.5" stroke-width="2" fill="none"/>
<ellipse cx="1239.7" cy="1134.5" rx="15" ry="17" transform="rotate(-20 1239.7 1134.5)" stroke-width="2.2" fill="#fff"/>
<polyline points="1247.2,1136.3 1258.4,1143.8" stroke-width="3.5" fill="none"/>
<polyline points="1241.6,1143.8 1248.1,1148.5" stroke-width="3" fill="none"/>
<polyline points="1222.9,1138.2 1232.3,1148.5 1226.7,1150.3 1220.1,1141.9" stroke-width="1.8" fill="none"/>
<text transform="translate(1290.1 1096.2) scale(1.16 1)" font-size="16">46</text>
<polyline points="1278.9,1094.4 1228.5,1084.1" stroke-width="1.5" fill="none"/>
<text transform="translate(1290.1 1123.3) scale(1.16 1)" font-size="16">47</text>
<polyline points="1278.9,1121.4 1230.4,1114" stroke-width="1.5" fill="none"/>
<polyline points="913.8,930.7 1052.4,1001.4" stroke-width="2" fill="none"/>
<polyline points="912.4,938.4 1051,1014" stroke-width="2" fill="none"/>
<path d="M913.8,930.7 Q908.2,934.2 912.4,938.4" stroke-width="2" fill="none"/>
<circle cx="920.1" cy="932.8" r="2.5" fill="#000" stroke-width="0"/>
<circle cx="1051" cy="1002.8" r="2.5" fill="#000" stroke-width="0"/>
<polyline points="912.4,929.3 1013.2,883.8" stroke-width="2" fill="none"/>
<polyline points="933.4,936.3 1013.2,897.8" stroke-width="2" fill="none"/>
<polyline points="976.8,908.3 1013.2,887.3 1013.9,889.4 979.6,909.7" stroke-width="1.5" fill="none"/>
<polyline points="979.6,909.7 1020.2,932.8" stroke-width="1.5" fill="none"/>
<polyline points="957.2,969.2 960,974.8" stroke-width="1.2" fill="none"/>
<polygon points="922.2,962.2 932,956.6 944.6,963.6 944.6,972 936.2,976.2 923.6,970.6" stroke-width="2" fill="#fff"/>
<polyline points="922.2,962.2 936.2,967.8 944.6,963.6" stroke-width="1.5" fill="none"/>
<polyline points="936.2,967.8 936.2,976.2" stroke-width="1.5" fill="none"/>
<polygon points="1025.8,1015.4 1035.6,1011.2 1048.2,1018.2 1048.2,1026.6 1038.4,1032.2 1026.5,1026.6" stroke-width="2" fill="#fff"/>
<polyline points="1025.8,1015.4 1038.4,1021 1048.2,1018.2" stroke-width="1.5" fill="none"/>
<polyline points="1038.4,1021 1038.4,1032.2" stroke-width="1.5" fill="none"/>
<text transform="translate(1026 1061) scale(1.16 1)" font-size="16">1</text>
<polyline points="1032,1048 1038,1035" stroke-width="1.5" fill="none"/>
</g>
<line x1="0" y1="1371.6" x2="1500" y2="1371.6" stroke="#000" stroke-width="1.3"/>
<rect x="31" y="1406" width="215" height="60" fill="#808083"/>
<g transform="translate(40,1410) scale(0.13333)" fill="#fff" stroke="none">
<path d="M200,53 L338,195.6 L200,336 L126.6,267 L221,267 Q262,262 255,232 Q252,210 246,195.6 Q252,182 255,158.8 Q262,128 221,124.3 L126.6,124.3 Z"/>
<rect x="53" y="156.5" width="163" height="25" rx="12"/>
<rect x="53" y="209.4" width="163" height="25" rx="12"/>
<path d="M435,90 H580 Q632,90 632,145 V160 Q632,175 622,180 Q632,190 632,205 V237 Q632,292 580,292 H435 L405,244 H566 V221 H480 V169 H566 V146 H405 Z"/>
<path d="M660,90 H720 V172 H832 V90 H892 V240 Q892,292 840,292 H660 V244 H832 V221 H700 Q660,221 660,180 Z"/>
<path d="M930,90 H1147 V146 H990 V169 H1115 Q1166,169 1166,215 V245 Q1166,292 1115,292 H930 Z M990,221 V244 H1102 V221 Z" fill-rule="evenodd"/>
<path d="M1192,90 H1380 Q1432,90 1432,140 V170 Q1432,221 1380,221 H1260 V292 H1192 Z M1260,146 V169 H1369 V146 Z" fill-rule="evenodd"/>
</g>
</svg>
<div class="t1" style="position:absolute;left:289px;top:1417.6px;font-size:39.5px;line-height:39.5px;font-family:'Liberation Sans',sans-serif;white-space:nowrap;transform-origin:0 0;transform:scaleX(0.911)">ЗПДС-200-800.</div>
<div class="t2" style="position:absolute;left:545px;top:1421.4px;font-size:35px;line-height:35px;font-family:'Liberation Sans',sans-serif;white-space:nowrap;color:#222;transform-origin:0 0;transform:scaleX(0.871)">Схема 1-1 (Схема-состав. Станок распиловочный)</div>
</body></html>
